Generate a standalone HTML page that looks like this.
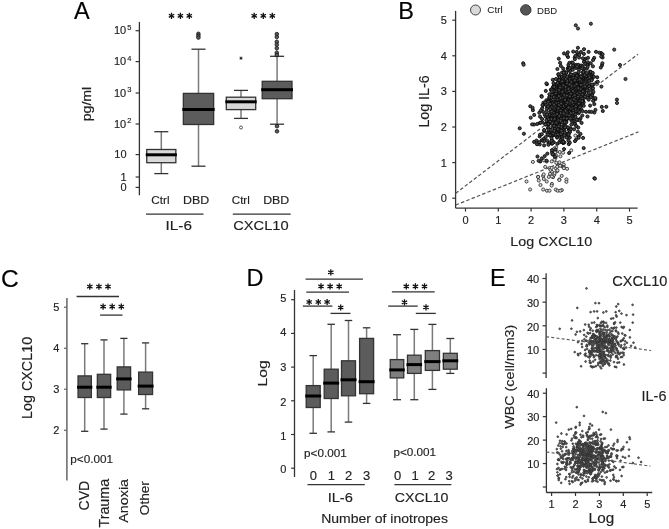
<!DOCTYPE html>
<html><head><meta charset="utf-8"><style>
html,body{margin:0;padding:0;background:#fff;}
svg{display:block;font-family:"Liberation Sans", sans-serif;filter:blur(0.3px);}

</style></head><body>
<svg width="669" height="529" viewBox="0 0 669 529">
<rect width="669" height="529" fill="#fff"/>
<text x="74.00" y="18.60" font-size="24.5" text-anchor="start" fill="#000" stroke="#000" stroke-width="0.15" transform="translate(74,0) scale(0.96,1) translate(-74,0)">A</text>
<line x1="139.40" y1="21.90" x2="139.40" y2="195.20" stroke="#333" stroke-width="1.3" />
<line x1="135.60" y1="30.70" x2="139.40" y2="30.70" stroke="#333" stroke-width="1.2" />
<line x1="135.60" y1="61.60" x2="139.40" y2="61.60" stroke="#333" stroke-width="1.2" />
<line x1="135.60" y1="93.00" x2="139.40" y2="93.00" stroke="#333" stroke-width="1.2" />
<line x1="135.60" y1="124.00" x2="139.40" y2="124.00" stroke="#333" stroke-width="1.2" />
<line x1="135.60" y1="154.60" x2="139.40" y2="154.60" stroke="#333" stroke-width="1.2" />
<line x1="135.60" y1="177.00" x2="139.40" y2="177.00" stroke="#333" stroke-width="1.2" />
<line x1="135.60" y1="187.40" x2="139.40" y2="187.40" stroke="#333" stroke-width="1.2" />
<text x="126.20" y="34.30" font-size="11" text-anchor="end" fill="#222" stroke="#222" stroke-width="0.15" >10</text>
<text x="127.20" y="29.70" font-size="7.5" text-anchor="start" fill="#222" stroke="#222" stroke-width="0.15" >5</text>
<text x="126.20" y="65.20" font-size="11" text-anchor="end" fill="#222" stroke="#222" stroke-width="0.15" >10</text>
<text x="127.20" y="60.60" font-size="7.5" text-anchor="start" fill="#222" stroke="#222" stroke-width="0.15" >4</text>
<text x="126.20" y="96.60" font-size="11" text-anchor="end" fill="#222" stroke="#222" stroke-width="0.15" >10</text>
<text x="127.20" y="92.00" font-size="7.5" text-anchor="start" fill="#222" stroke="#222" stroke-width="0.15" >3</text>
<text x="126.20" y="127.60" font-size="11" text-anchor="end" fill="#222" stroke="#222" stroke-width="0.15" >10</text>
<text x="127.20" y="123.00" font-size="7.5" text-anchor="start" fill="#222" stroke="#222" stroke-width="0.15" >2</text>
<text x="126.60" y="158.40" font-size="11" text-anchor="end" fill="#222" stroke="#222" stroke-width="0.15" >10</text>
<text x="126.60" y="180.80" font-size="11" text-anchor="end" fill="#222" stroke="#222" stroke-width="0.15" >1</text>
<text x="126.60" y="191.20" font-size="11" text-anchor="end" fill="#222" stroke="#222" stroke-width="0.15" >0</text>
<text transform="translate(91.44,121.37) rotate(-90) scale(1.060,1)" font-size="13.37" fill="#222" stroke="#222" stroke-width="0.2">pg/ml</text>
<line x1="161.30" y1="131.70" x2="161.30" y2="149.50" stroke="#7a7a7a" stroke-width="1.5" />
<line x1="161.30" y1="162.70" x2="161.30" y2="173.60" stroke="#7a7a7a" stroke-width="1.5" />
<line x1="154.30" y1="131.70" x2="168.30" y2="131.70" stroke="#333" stroke-width="1.3" />
<line x1="154.30" y1="173.60" x2="168.30" y2="173.60" stroke="#333" stroke-width="1.3" />
<rect x="146.75" y="149.50" width="29.10" height="13.20" fill="#d9d9d9" stroke="#333" stroke-width="1.3"/>
<line x1="145.75" y1="154.80" x2="176.85" y2="154.80" stroke="#000" stroke-width="3" />
<line x1="198.50" y1="49.20" x2="198.50" y2="93.40" stroke="#7a7a7a" stroke-width="1.5" />
<line x1="198.50" y1="124.50" x2="198.50" y2="166.20" stroke="#7a7a7a" stroke-width="1.5" />
<line x1="191.50" y1="49.20" x2="205.50" y2="49.20" stroke="#333" stroke-width="1.3" />
<line x1="191.50" y1="166.20" x2="205.50" y2="166.20" stroke="#333" stroke-width="1.3" />
<rect x="183.35" y="93.40" width="30.30" height="31.10" fill="#5c5c5c" stroke="#333" stroke-width="1.3"/>
<line x1="182.35" y1="109.60" x2="214.65" y2="109.60" stroke="#000" stroke-width="3" />
<line x1="241.00" y1="90.40" x2="241.00" y2="97.20" stroke="#7a7a7a" stroke-width="1.5" />
<line x1="241.00" y1="109.60" x2="241.00" y2="118.40" stroke="#7a7a7a" stroke-width="1.5" />
<line x1="234.00" y1="90.40" x2="248.00" y2="90.40" stroke="#333" stroke-width="1.3" />
<line x1="234.00" y1="118.40" x2="248.00" y2="118.40" stroke="#333" stroke-width="1.3" />
<rect x="226.30" y="97.20" width="29.40" height="12.40" fill="#d9d9d9" stroke="#333" stroke-width="1.3"/>
<line x1="225.30" y1="101.80" x2="256.70" y2="101.80" stroke="#000" stroke-width="3" />
<line x1="277.10" y1="56.30" x2="277.10" y2="81.30" stroke="#7a7a7a" stroke-width="1.5" />
<line x1="277.10" y1="98.70" x2="277.10" y2="124.20" stroke="#7a7a7a" stroke-width="1.5" />
<line x1="270.10" y1="56.30" x2="284.10" y2="56.30" stroke="#333" stroke-width="1.3" />
<line x1="270.10" y1="124.20" x2="284.10" y2="124.20" stroke="#333" stroke-width="1.3" />
<rect x="262.20" y="81.30" width="29.80" height="17.40" fill="#5c5c5c" stroke="#333" stroke-width="1.3"/>
<line x1="261.20" y1="89.70" x2="293.00" y2="89.70" stroke="#000" stroke-width="3" />
<g fill="#5c5c5c" stroke="#111" stroke-width="0.8"><circle cx="198.4" cy="33.8" r="1.8"/><circle cx="198.4" cy="35.7" r="1.8"/><circle cx="198.4" cy="37.6" r="1.8"/><circle cx="276.8" cy="34.1" r="1.8"/><circle cx="276.8" cy="37.0" r="1.8"/><circle cx="276.8" cy="41.8" r="1.8"/><circle cx="276.8" cy="44.7" r="1.8"/><circle cx="276.8" cy="48.2" r="1.8"/><circle cx="276.8" cy="52.7" r="1.8"/><circle cx="276.8" cy="55.0" r="1.8"/><circle cx="277.0" cy="126.2" r="1.8"/><circle cx="277.0" cy="131.3" r="1.8"/></g>
<g fill="#fff" stroke="#444" stroke-width="0.9"><circle cx="241.0" cy="127.5" r="1.5"/></g>
<path d="M241.00,56.60L241.00,59.80M239.61,57.40L242.39,59.00M242.39,57.40L239.61,59.00" stroke="#111" stroke-width="0.9" fill="none"/>
<path d="M171.50,12.70L171.50,18.90M168.82,14.25L174.18,17.35M174.18,14.25L168.82,17.35" stroke="#111" stroke-width="1.3" fill="none"/>
<path d="M180.40,12.70L180.40,18.90M177.72,14.25L183.08,17.35M183.08,14.25L177.72,17.35" stroke="#111" stroke-width="1.3" fill="none"/>
<path d="M189.30,12.70L189.30,18.90M186.62,14.25L191.98,17.35M191.98,14.25L186.62,17.35" stroke="#111" stroke-width="1.3" fill="none"/>
<path d="M254.20,12.70L254.20,18.90M251.52,14.25L256.88,17.35M256.88,14.25L251.52,17.35" stroke="#111" stroke-width="1.3" fill="none"/>
<path d="M263.30,12.70L263.30,18.90M260.62,14.25L265.98,17.35M265.98,14.25L260.62,17.35" stroke="#111" stroke-width="1.3" fill="none"/>
<path d="M272.30,12.70L272.30,18.90M269.62,14.25L274.98,17.35M274.98,14.25L269.62,17.35" stroke="#111" stroke-width="1.3" fill="none"/>
<text transform="translate(151.37,203.84) scale(1.061,1)" font-size="11.00" fill="#222" stroke="#222" stroke-width="0.15">Ctrl</text>
<text transform="translate(183.06,203.95) scale(1.171,1)" font-size="10.58" fill="#222" stroke="#222" stroke-width="0.15">DBD</text>
<text transform="translate(231.77,203.84) scale(1.054,1)" font-size="11.00" fill="#222" stroke="#222" stroke-width="0.15">Ctrl</text>
<text transform="translate(263.16,203.95) scale(1.167,1)" font-size="10.58" fill="#222" stroke="#222" stroke-width="0.15">DBD</text>
<line x1="146.00" y1="214.10" x2="203.50" y2="214.10" stroke="#333" stroke-width="1.3" />
<line x1="232.80" y1="214.10" x2="290.70" y2="214.10" stroke="#333" stroke-width="1.3" />
<text transform="translate(165.57,230.42) scale(1.158,1)" font-size="13.24" fill="#222" stroke="#222" stroke-width="0.15">IL-6</text>
<text transform="translate(233.22,230.42) scale(1.109,1)" font-size="13.24" fill="#222" stroke="#222" stroke-width="0.15">CXCL10</text>
<text x="398.20" y="18.60" font-size="24.5" text-anchor="start" fill="#000" stroke="#000" stroke-width="0.15" transform="translate(398,0) scale(0.96,1) translate(-398,0)">B</text>
<line x1="455.60" y1="10.90" x2="455.60" y2="208.10" stroke="#333" stroke-width="1.3" />
<line x1="455.60" y1="208.10" x2="637.60" y2="208.10" stroke="#333" stroke-width="1.3" />
<line x1="452.30" y1="198.20" x2="455.60" y2="198.20" stroke="#333" stroke-width="1.2" />
<text x="446.80" y="202.10" font-size="11" text-anchor="end" fill="#222" stroke="#222" stroke-width="0.15" >0</text>
<line x1="465.50" y1="208.10" x2="465.50" y2="211.60" stroke="#333" stroke-width="1.2" />
<text x="465.50" y="224.20" font-size="11" text-anchor="middle" fill="#222" stroke="#222" stroke-width="0.15" >0</text>
<line x1="452.30" y1="162.60" x2="455.60" y2="162.60" stroke="#333" stroke-width="1.2" />
<text x="446.80" y="166.50" font-size="11" text-anchor="end" fill="#222" stroke="#222" stroke-width="0.15" >1</text>
<line x1="498.30" y1="208.10" x2="498.30" y2="211.60" stroke="#333" stroke-width="1.2" />
<text x="498.30" y="224.20" font-size="11" text-anchor="middle" fill="#222" stroke="#222" stroke-width="0.15" >1</text>
<line x1="452.30" y1="127.00" x2="455.60" y2="127.00" stroke="#333" stroke-width="1.2" />
<text x="446.80" y="130.90" font-size="11" text-anchor="end" fill="#222" stroke="#222" stroke-width="0.15" >2</text>
<line x1="531.10" y1="208.10" x2="531.10" y2="211.60" stroke="#333" stroke-width="1.2" />
<text x="531.10" y="224.20" font-size="11" text-anchor="middle" fill="#222" stroke="#222" stroke-width="0.15" >2</text>
<line x1="452.30" y1="91.40" x2="455.60" y2="91.40" stroke="#333" stroke-width="1.2" />
<text x="446.80" y="95.30" font-size="11" text-anchor="end" fill="#222" stroke="#222" stroke-width="0.15" >3</text>
<line x1="563.90" y1="208.10" x2="563.90" y2="211.60" stroke="#333" stroke-width="1.2" />
<text x="563.90" y="224.20" font-size="11" text-anchor="middle" fill="#222" stroke="#222" stroke-width="0.15" >3</text>
<line x1="452.30" y1="55.80" x2="455.60" y2="55.80" stroke="#333" stroke-width="1.2" />
<text x="446.80" y="59.70" font-size="11" text-anchor="end" fill="#222" stroke="#222" stroke-width="0.15" >4</text>
<line x1="596.70" y1="208.10" x2="596.70" y2="211.60" stroke="#333" stroke-width="1.2" />
<text x="596.70" y="224.20" font-size="11" text-anchor="middle" fill="#222" stroke="#222" stroke-width="0.15" >4</text>
<line x1="452.30" y1="20.20" x2="455.60" y2="20.20" stroke="#333" stroke-width="1.2" />
<text x="446.80" y="24.10" font-size="11" text-anchor="end" fill="#222" stroke="#222" stroke-width="0.15" >5</text>
<line x1="629.50" y1="208.10" x2="629.50" y2="211.60" stroke="#333" stroke-width="1.2" />
<text x="629.50" y="224.20" font-size="11" text-anchor="middle" fill="#222" stroke="#222" stroke-width="0.15" >5</text>
<text transform="translate(510.30,246.25) scale(1.056,1)" font-size="13.57" fill="#222" stroke="#222" stroke-width="0.15">Log CXCL10</text>
<text transform="translate(428.97,127.59) rotate(-90) scale(1.003,1)" font-size="14.18" fill="#222" stroke="#222" stroke-width="0.15">Log IL-6</text>
<g stroke="#555" stroke-width="1.2" stroke-dasharray="3.5,2.2">
<line x1="455.70" y1="193.30" x2="637.90" y2="54.20" stroke="#555" stroke-width="1.2" />
<line x1="455.70" y1="205.00" x2="638.40" y2="131.90" stroke="#555" stroke-width="1.2" />
</g>
<g fill="#d9d9d9" stroke="#444" stroke-width="1"><circle cx="475.5" cy="10.0" r="5.0"/></g>
<g fill="#555" stroke="#333" stroke-width="1"><circle cx="525.8" cy="9.9" r="5.2"/></g>
<text transform="translate(487.36,12.56) scale(1.060,1)" font-size="9.30" fill="#222" stroke="#222" stroke-width="0.05">Ctrl</text>
<text transform="translate(537.09,14.15) scale(1.011,1)" font-size="9.42" fill="#222" stroke="#222" stroke-width="0.05">DBD</text>
<g fill="#d9d9d9" stroke="#333" stroke-width="0.9"><circle cx="567.1" cy="168.8" r="1.55"/><circle cx="556.2" cy="147.3" r="1.55"/><circle cx="538.1" cy="176.8" r="1.55"/><circle cx="555.4" cy="157.9" r="1.55"/><circle cx="555.9" cy="168.3" r="1.55"/><circle cx="559.7" cy="164.8" r="1.55"/><circle cx="544.1" cy="160.4" r="1.55"/><circle cx="543.5" cy="141.4" r="1.55"/><circle cx="556.4" cy="151.5" r="1.55"/><circle cx="549.5" cy="168.0" r="1.55"/><circle cx="551.8" cy="171.7" r="1.55"/><circle cx="545.2" cy="166.9" r="1.55"/><circle cx="554.5" cy="156.0" r="1.55"/><circle cx="559.8" cy="152.0" r="1.55"/><circle cx="553.1" cy="177.1" r="1.55"/><circle cx="552.4" cy="154.4" r="1.55"/><circle cx="561.7" cy="175.9" r="1.55"/><circle cx="543.1" cy="175.9" r="1.55"/><circle cx="546.7" cy="161.5" r="1.55"/><circle cx="530.1" cy="189.5" r="1.55"/><circle cx="560.1" cy="165.8" r="1.55"/><circle cx="559.5" cy="162.4" r="1.55"/><circle cx="551.9" cy="183.9" r="1.55"/><circle cx="555.2" cy="152.2" r="1.55"/><circle cx="556.3" cy="155.7" r="1.55"/><circle cx="557.2" cy="166.8" r="1.55"/><circle cx="555.8" cy="189.6" r="1.55"/><circle cx="548.8" cy="176.9" r="1.55"/><circle cx="554.3" cy="174.8" r="1.55"/><circle cx="556.3" cy="162.8" r="1.55"/><circle cx="563.1" cy="152.7" r="1.55"/><circle cx="532.9" cy="161.9" r="1.55"/><circle cx="550.5" cy="169.8" r="1.55"/><circle cx="543.7" cy="174.4" r="1.55"/><circle cx="563.8" cy="164.7" r="1.55"/><circle cx="571.2" cy="150.4" r="1.55"/><circle cx="551.9" cy="176.5" r="1.55"/><circle cx="551.6" cy="185.6" r="1.55"/><circle cx="551.7" cy="161.4" r="1.55"/><circle cx="551.7" cy="167.9" r="1.55"/><circle cx="559.3" cy="179.5" r="1.55"/><circle cx="575.4" cy="135.6" r="1.55"/><circle cx="560.4" cy="156.3" r="1.55"/><circle cx="566.5" cy="179.4" r="1.55"/><circle cx="554.6" cy="173.1" r="1.55"/><circle cx="557.2" cy="171.1" r="1.55"/><circle cx="557.5" cy="170.3" r="1.55"/><circle cx="546.7" cy="181.5" r="1.55"/><circle cx="554.2" cy="148.5" r="1.55"/><circle cx="559.4" cy="180.0" r="1.55"/><circle cx="563.0" cy="166.9" r="1.55"/><circle cx="543.2" cy="189.5" r="1.55"/><circle cx="538.1" cy="177.0" r="1.55"/><circle cx="563.8" cy="167.2" r="1.55"/><circle cx="538.8" cy="180.5" r="1.55"/><circle cx="550.0" cy="173.8" r="1.55"/><circle cx="561.8" cy="190.1" r="1.55"/><circle cx="554.5" cy="159.7" r="1.55"/><circle cx="566.4" cy="181.8" r="1.55"/><circle cx="562.3" cy="140.6" r="1.55"/><circle cx="563.9" cy="168.2" r="1.55"/><circle cx="543.8" cy="179.0" r="1.55"/><circle cx="546.9" cy="190.7" r="1.55"/><circle cx="549.5" cy="190.7" r="1.55"/><circle cx="557.7" cy="190.7" r="1.55"/><circle cx="560.3" cy="190.7" r="1.55"/><circle cx="526.5" cy="181.5" r="1.55"/><circle cx="540.5" cy="185.0" r="1.55"/></g>
<g fill="#4a4a4a" stroke="#0a0a0a" stroke-width="0.9"><circle cx="578.9" cy="108.5" r="1.55"/><circle cx="572.3" cy="74.9" r="1.55"/><circle cx="558.7" cy="107.1" r="1.55"/><circle cx="570.7" cy="90.8" r="1.55"/><circle cx="555.9" cy="79.0" r="1.55"/><circle cx="579.1" cy="69.5" r="1.55"/><circle cx="571.0" cy="88.1" r="1.55"/><circle cx="567.1" cy="113.3" r="1.55"/><circle cx="571.6" cy="84.8" r="1.55"/><circle cx="571.1" cy="109.5" r="1.55"/><circle cx="544.7" cy="114.8" r="1.55"/><circle cx="563.6" cy="91.8" r="1.55"/><circle cx="541.8" cy="140.2" r="1.55"/><circle cx="551.2" cy="107.7" r="1.55"/><circle cx="553.4" cy="134.9" r="1.55"/><circle cx="572.0" cy="83.1" r="1.55"/><circle cx="563.2" cy="120.6" r="1.55"/><circle cx="569.8" cy="86.6" r="1.55"/><circle cx="580.5" cy="96.3" r="1.55"/><circle cx="556.9" cy="103.9" r="1.55"/><circle cx="571.5" cy="96.9" r="1.55"/><circle cx="564.2" cy="74.1" r="1.55"/><circle cx="552.7" cy="113.4" r="1.55"/><circle cx="552.1" cy="140.5" r="1.55"/><circle cx="564.1" cy="88.7" r="1.55"/><circle cx="585.9" cy="77.5" r="1.55"/><circle cx="575.4" cy="91.7" r="1.55"/><circle cx="562.5" cy="76.9" r="1.55"/><circle cx="577.1" cy="92.8" r="1.55"/><circle cx="553.8" cy="142.2" r="1.55"/><circle cx="571.1" cy="112.0" r="1.55"/><circle cx="562.2" cy="112.4" r="1.55"/><circle cx="561.2" cy="92.0" r="1.55"/><circle cx="570.5" cy="90.0" r="1.55"/><circle cx="565.8" cy="90.4" r="1.55"/><circle cx="581.3" cy="82.9" r="1.55"/><circle cx="570.4" cy="109.8" r="1.55"/><circle cx="593.7" cy="84.5" r="1.55"/><circle cx="560.4" cy="140.4" r="1.55"/><circle cx="569.4" cy="92.9" r="1.55"/><circle cx="568.8" cy="130.1" r="1.55"/><circle cx="560.2" cy="132.4" r="1.55"/><circle cx="563.1" cy="68.4" r="1.55"/><circle cx="551.6" cy="103.7" r="1.55"/><circle cx="582.2" cy="104.8" r="1.55"/><circle cx="567.8" cy="52.3" r="1.55"/><circle cx="567.6" cy="118.5" r="1.55"/><circle cx="584.0" cy="71.6" r="1.55"/><circle cx="562.3" cy="120.3" r="1.55"/><circle cx="564.2" cy="102.6" r="1.55"/><circle cx="563.3" cy="120.4" r="1.55"/><circle cx="568.1" cy="96.2" r="1.55"/><circle cx="552.5" cy="102.1" r="1.55"/><circle cx="572.9" cy="118.9" r="1.55"/><circle cx="551.4" cy="100.7" r="1.55"/><circle cx="582.8" cy="77.3" r="1.55"/><circle cx="585.4" cy="58.8" r="1.55"/><circle cx="548.9" cy="106.4" r="1.55"/><circle cx="601.4" cy="86.6" r="1.55"/><circle cx="553.0" cy="117.6" r="1.55"/><circle cx="563.9" cy="86.8" r="1.55"/><circle cx="560.6" cy="107.3" r="1.55"/><circle cx="577.9" cy="104.0" r="1.55"/><circle cx="574.8" cy="106.8" r="1.55"/><circle cx="565.5" cy="113.5" r="1.55"/><circle cx="534.1" cy="141.9" r="1.55"/><circle cx="567.8" cy="83.6" r="1.55"/><circle cx="576.3" cy="93.3" r="1.55"/><circle cx="585.3" cy="78.8" r="1.55"/><circle cx="574.1" cy="81.1" r="1.55"/><circle cx="553.3" cy="114.7" r="1.55"/><circle cx="551.6" cy="108.4" r="1.55"/><circle cx="560.5" cy="114.3" r="1.55"/><circle cx="565.3" cy="96.3" r="1.55"/><circle cx="548.6" cy="143.6" r="1.55"/><circle cx="578.1" cy="103.2" r="1.55"/><circle cx="565.4" cy="88.0" r="1.55"/><circle cx="578.2" cy="127.5" r="1.55"/><circle cx="589.6" cy="95.3" r="1.55"/><circle cx="577.5" cy="54.4" r="1.55"/><circle cx="573.8" cy="97.0" r="1.55"/><circle cx="576.1" cy="93.7" r="1.55"/><circle cx="569.6" cy="99.6" r="1.55"/><circle cx="551.4" cy="134.2" r="1.55"/><circle cx="560.8" cy="119.6" r="1.55"/><circle cx="567.7" cy="115.8" r="1.55"/><circle cx="576.2" cy="87.2" r="1.55"/><circle cx="569.8" cy="96.9" r="1.55"/><circle cx="560.7" cy="111.9" r="1.55"/><circle cx="565.4" cy="115.4" r="1.55"/><circle cx="571.6" cy="105.5" r="1.55"/><circle cx="562.6" cy="135.3" r="1.55"/><circle cx="552.8" cy="116.0" r="1.55"/><circle cx="559.3" cy="104.8" r="1.55"/><circle cx="563.5" cy="94.4" r="1.55"/><circle cx="549.0" cy="122.0" r="1.55"/><circle cx="578.2" cy="75.6" r="1.55"/><circle cx="556.0" cy="127.9" r="1.55"/><circle cx="568.8" cy="144.1" r="1.55"/><circle cx="557.1" cy="137.6" r="1.55"/><circle cx="557.7" cy="85.1" r="1.55"/><circle cx="578.0" cy="101.3" r="1.55"/><circle cx="572.7" cy="94.4" r="1.55"/><circle cx="576.0" cy="83.8" r="1.55"/><circle cx="568.0" cy="95.5" r="1.55"/><circle cx="563.2" cy="85.5" r="1.55"/><circle cx="568.6" cy="84.1" r="1.55"/><circle cx="559.9" cy="127.9" r="1.55"/><circle cx="589.9" cy="71.6" r="1.55"/><circle cx="568.0" cy="117.2" r="1.55"/><circle cx="561.1" cy="112.2" r="1.55"/><circle cx="545.8" cy="90.9" r="1.55"/><circle cx="558.5" cy="94.5" r="1.55"/><circle cx="546.6" cy="111.3" r="1.55"/><circle cx="544.2" cy="131.0" r="1.55"/><circle cx="588.7" cy="93.1" r="1.55"/><circle cx="576.0" cy="108.6" r="1.55"/><circle cx="546.4" cy="100.2" r="1.55"/><circle cx="571.6" cy="102.0" r="1.55"/><circle cx="565.2" cy="113.6" r="1.55"/><circle cx="563.4" cy="87.1" r="1.55"/><circle cx="551.1" cy="133.4" r="1.55"/><circle cx="561.1" cy="106.0" r="1.55"/><circle cx="590.7" cy="90.0" r="1.55"/><circle cx="568.9" cy="115.1" r="1.55"/><circle cx="581.0" cy="86.4" r="1.55"/><circle cx="571.9" cy="79.2" r="1.55"/><circle cx="591.2" cy="96.6" r="1.55"/><circle cx="567.6" cy="83.3" r="1.55"/><circle cx="583.1" cy="95.9" r="1.55"/><circle cx="564.3" cy="92.8" r="1.55"/><circle cx="568.4" cy="64.9" r="1.55"/><circle cx="570.5" cy="92.4" r="1.55"/><circle cx="566.8" cy="133.9" r="1.55"/><circle cx="558.6" cy="90.5" r="1.55"/><circle cx="567.6" cy="88.5" r="1.55"/><circle cx="543.1" cy="140.4" r="1.55"/><circle cx="574.3" cy="100.4" r="1.55"/><circle cx="568.1" cy="99.8" r="1.55"/><circle cx="568.4" cy="92.2" r="1.55"/><circle cx="577.9" cy="78.9" r="1.55"/><circle cx="573.7" cy="99.3" r="1.55"/><circle cx="550.4" cy="122.4" r="1.55"/><circle cx="582.7" cy="72.3" r="1.55"/><circle cx="566.8" cy="110.7" r="1.55"/><circle cx="564.5" cy="114.6" r="1.55"/><circle cx="562.8" cy="118.5" r="1.55"/><circle cx="564.4" cy="142.5" r="1.55"/><circle cx="547.2" cy="106.9" r="1.55"/><circle cx="560.8" cy="106.2" r="1.55"/><circle cx="557.1" cy="94.8" r="1.55"/><circle cx="602.8" cy="111.0" r="1.55"/><circle cx="558.0" cy="131.8" r="1.55"/><circle cx="565.2" cy="110.6" r="1.55"/><circle cx="539.7" cy="136.4" r="1.55"/><circle cx="569.9" cy="93.2" r="1.55"/><circle cx="574.2" cy="65.3" r="1.55"/><circle cx="594.4" cy="112.5" r="1.55"/><circle cx="551.2" cy="115.3" r="1.55"/><circle cx="565.5" cy="103.7" r="1.55"/><circle cx="574.8" cy="85.8" r="1.55"/><circle cx="561.5" cy="120.1" r="1.55"/><circle cx="601.1" cy="53.0" r="1.55"/><circle cx="540.3" cy="161.5" r="1.55"/><circle cx="564.2" cy="124.5" r="1.55"/><circle cx="582.3" cy="115.5" r="1.55"/><circle cx="582.6" cy="87.4" r="1.55"/><circle cx="567.5" cy="99.0" r="1.55"/><circle cx="581.0" cy="101.7" r="1.55"/><circle cx="567.7" cy="90.3" r="1.55"/><circle cx="579.2" cy="77.0" r="1.55"/><circle cx="558.3" cy="101.2" r="1.55"/><circle cx="555.4" cy="112.3" r="1.55"/><circle cx="569.2" cy="90.2" r="1.55"/><circle cx="579.4" cy="83.0" r="1.55"/><circle cx="546.9" cy="84.2" r="1.55"/><circle cx="569.0" cy="110.5" r="1.55"/><circle cx="597.2" cy="77.3" r="1.55"/><circle cx="568.2" cy="67.7" r="1.55"/><circle cx="552.0" cy="152.3" r="1.55"/><circle cx="575.2" cy="106.9" r="1.55"/><circle cx="567.1" cy="106.8" r="1.55"/><circle cx="557.1" cy="136.9" r="1.55"/><circle cx="565.5" cy="114.1" r="1.55"/><circle cx="569.2" cy="92.9" r="1.55"/><circle cx="568.9" cy="96.4" r="1.55"/><circle cx="577.5" cy="89.3" r="1.55"/><circle cx="556.0" cy="112.1" r="1.55"/><circle cx="580.7" cy="65.8" r="1.55"/><circle cx="578.5" cy="83.9" r="1.55"/><circle cx="554.4" cy="111.7" r="1.55"/><circle cx="569.6" cy="101.8" r="1.55"/><circle cx="560.0" cy="84.5" r="1.55"/><circle cx="560.1" cy="115.3" r="1.55"/><circle cx="558.8" cy="58.7" r="1.55"/><circle cx="565.1" cy="91.4" r="1.55"/><circle cx="565.5" cy="91.8" r="1.55"/><circle cx="583.7" cy="102.4" r="1.55"/><circle cx="573.3" cy="97.6" r="1.55"/><circle cx="562.6" cy="91.9" r="1.55"/><circle cx="569.1" cy="90.7" r="1.55"/><circle cx="558.7" cy="120.2" r="1.55"/><circle cx="571.1" cy="111.3" r="1.55"/><circle cx="561.0" cy="101.7" r="1.55"/><circle cx="588.1" cy="76.7" r="1.55"/><circle cx="583.0" cy="79.0" r="1.55"/><circle cx="561.4" cy="103.6" r="1.55"/><circle cx="572.4" cy="113.3" r="1.55"/><circle cx="553.6" cy="94.1" r="1.55"/><circle cx="552.9" cy="97.6" r="1.55"/><circle cx="556.7" cy="94.2" r="1.55"/><circle cx="556.1" cy="130.5" r="1.55"/><circle cx="550.3" cy="97.4" r="1.55"/><circle cx="592.6" cy="97.0" r="1.55"/><circle cx="569.8" cy="142.7" r="1.55"/><circle cx="555.6" cy="115.5" r="1.55"/><circle cx="551.4" cy="100.5" r="1.55"/><circle cx="582.2" cy="77.8" r="1.55"/><circle cx="557.0" cy="117.8" r="1.55"/><circle cx="549.6" cy="133.7" r="1.55"/><circle cx="558.8" cy="75.6" r="1.55"/><circle cx="563.7" cy="113.0" r="1.55"/><circle cx="587.8" cy="87.0" r="1.55"/><circle cx="555.4" cy="109.5" r="1.55"/><circle cx="566.9" cy="92.0" r="1.55"/><circle cx="573.3" cy="114.6" r="1.55"/><circle cx="583.5" cy="68.5" r="1.55"/><circle cx="569.7" cy="109.8" r="1.55"/><circle cx="549.4" cy="143.1" r="1.55"/><circle cx="578.7" cy="136.3" r="1.55"/><circle cx="573.8" cy="88.5" r="1.55"/><circle cx="541.5" cy="96.0" r="1.55"/><circle cx="587.4" cy="95.4" r="1.55"/><circle cx="566.0" cy="121.7" r="1.55"/><circle cx="558.4" cy="80.9" r="1.55"/><circle cx="586.8" cy="89.4" r="1.55"/><circle cx="567.6" cy="98.0" r="1.55"/><circle cx="559.1" cy="79.5" r="1.55"/><circle cx="576.7" cy="105.9" r="1.55"/><circle cx="564.3" cy="133.9" r="1.55"/><circle cx="543.5" cy="102.7" r="1.55"/><circle cx="556.4" cy="101.0" r="1.55"/><circle cx="558.3" cy="91.1" r="1.55"/><circle cx="568.7" cy="77.6" r="1.55"/><circle cx="563.9" cy="92.9" r="1.55"/><circle cx="574.2" cy="115.3" r="1.55"/><circle cx="564.5" cy="96.8" r="1.55"/><circle cx="565.8" cy="134.9" r="1.55"/><circle cx="569.7" cy="86.2" r="1.55"/><circle cx="558.9" cy="93.4" r="1.55"/><circle cx="549.7" cy="120.9" r="1.55"/><circle cx="572.0" cy="97.0" r="1.55"/><circle cx="566.4" cy="122.2" r="1.55"/><circle cx="574.7" cy="87.3" r="1.55"/><circle cx="572.7" cy="79.9" r="1.55"/><circle cx="569.5" cy="107.7" r="1.55"/><circle cx="573.2" cy="107.4" r="1.55"/><circle cx="568.2" cy="136.1" r="1.55"/><circle cx="557.8" cy="119.0" r="1.55"/><circle cx="559.5" cy="135.0" r="1.55"/><circle cx="587.2" cy="81.0" r="1.55"/><circle cx="559.3" cy="78.5" r="1.55"/><circle cx="555.1" cy="117.6" r="1.55"/><circle cx="568.2" cy="128.0" r="1.55"/><circle cx="567.6" cy="99.1" r="1.55"/><circle cx="561.8" cy="88.6" r="1.55"/><circle cx="550.1" cy="118.4" r="1.55"/><circle cx="573.7" cy="94.1" r="1.55"/><circle cx="581.2" cy="95.7" r="1.55"/><circle cx="549.1" cy="129.4" r="1.55"/><circle cx="555.2" cy="94.0" r="1.55"/><circle cx="570.8" cy="119.0" r="1.55"/><circle cx="585.8" cy="84.6" r="1.55"/><circle cx="564.6" cy="101.3" r="1.55"/><circle cx="572.3" cy="78.6" r="1.55"/><circle cx="581.3" cy="101.9" r="1.55"/><circle cx="557.4" cy="108.2" r="1.55"/><circle cx="571.6" cy="106.0" r="1.55"/><circle cx="571.9" cy="93.6" r="1.55"/><circle cx="556.5" cy="84.2" r="1.55"/><circle cx="560.1" cy="122.1" r="1.55"/><circle cx="545.7" cy="116.8" r="1.55"/><circle cx="547.1" cy="124.6" r="1.55"/><circle cx="555.3" cy="102.3" r="1.55"/><circle cx="583.8" cy="105.8" r="1.55"/><circle cx="576.5" cy="112.0" r="1.55"/><circle cx="558.5" cy="92.0" r="1.55"/><circle cx="555.0" cy="104.2" r="1.55"/><circle cx="562.4" cy="81.7" r="1.55"/><circle cx="583.2" cy="77.7" r="1.55"/><circle cx="555.5" cy="149.5" r="1.55"/><circle cx="572.7" cy="66.7" r="1.55"/><circle cx="558.5" cy="74.2" r="1.55"/><circle cx="553.2" cy="90.4" r="1.55"/><circle cx="554.1" cy="84.9" r="1.55"/><circle cx="546.6" cy="160.7" r="1.55"/><circle cx="580.9" cy="52.0" r="1.55"/><circle cx="574.5" cy="86.1" r="1.55"/><circle cx="569.0" cy="112.8" r="1.55"/><circle cx="569.4" cy="62.8" r="1.55"/><circle cx="574.3" cy="92.7" r="1.55"/><circle cx="568.4" cy="140.6" r="1.55"/><circle cx="574.7" cy="57.6" r="1.55"/><circle cx="582.0" cy="66.6" r="1.55"/><circle cx="578.5" cy="113.3" r="1.55"/><circle cx="571.2" cy="99.8" r="1.55"/><circle cx="591.4" cy="76.8" r="1.55"/><circle cx="561.3" cy="77.9" r="1.55"/><circle cx="562.6" cy="141.5" r="1.55"/><circle cx="559.4" cy="123.4" r="1.55"/><circle cx="555.0" cy="125.1" r="1.55"/><circle cx="569.8" cy="137.5" r="1.55"/><circle cx="556.1" cy="124.2" r="1.55"/><circle cx="575.6" cy="112.5" r="1.55"/><circle cx="553.4" cy="133.1" r="1.55"/><circle cx="569.2" cy="110.0" r="1.55"/><circle cx="566.1" cy="91.1" r="1.55"/><circle cx="564.9" cy="96.4" r="1.55"/><circle cx="569.4" cy="92.8" r="1.55"/><circle cx="560.2" cy="116.9" r="1.55"/><circle cx="590.1" cy="105.6" r="1.55"/><circle cx="564.7" cy="114.9" r="1.55"/><circle cx="560.1" cy="62.8" r="1.55"/><circle cx="540.0" cy="134.7" r="1.55"/><circle cx="587.5" cy="116.5" r="1.55"/><circle cx="580.7" cy="100.3" r="1.55"/><circle cx="541.7" cy="96.8" r="1.55"/><circle cx="555.1" cy="156.7" r="1.55"/><circle cx="556.0" cy="93.4" r="1.55"/><circle cx="562.0" cy="72.6" r="1.55"/><circle cx="589.5" cy="85.6" r="1.55"/><circle cx="549.3" cy="114.4" r="1.55"/><circle cx="563.6" cy="80.3" r="1.55"/><circle cx="562.9" cy="79.5" r="1.55"/><circle cx="574.2" cy="86.5" r="1.55"/><circle cx="554.2" cy="108.3" r="1.55"/><circle cx="551.0" cy="89.6" r="1.55"/><circle cx="560.1" cy="107.2" r="1.55"/><circle cx="560.7" cy="83.2" r="1.55"/><circle cx="578.5" cy="65.5" r="1.55"/><circle cx="568.8" cy="133.5" r="1.55"/><circle cx="579.2" cy="67.1" r="1.55"/><circle cx="558.5" cy="122.1" r="1.55"/><circle cx="557.3" cy="116.4" r="1.55"/><circle cx="583.5" cy="71.9" r="1.55"/><circle cx="570.6" cy="101.6" r="1.55"/><circle cx="573.4" cy="108.2" r="1.55"/><circle cx="570.6" cy="82.9" r="1.55"/><circle cx="589.2" cy="111.7" r="1.55"/><circle cx="568.2" cy="93.4" r="1.55"/><circle cx="584.4" cy="59.8" r="1.55"/><circle cx="562.7" cy="129.4" r="1.55"/><circle cx="553.7" cy="120.0" r="1.55"/><circle cx="567.9" cy="95.7" r="1.55"/><circle cx="554.4" cy="116.9" r="1.55"/><circle cx="571.6" cy="120.9" r="1.55"/><circle cx="554.6" cy="115.9" r="1.55"/><circle cx="579.1" cy="57.5" r="1.55"/><circle cx="591.4" cy="77.5" r="1.55"/><circle cx="551.9" cy="100.0" r="1.55"/><circle cx="576.3" cy="96.6" r="1.55"/><circle cx="575.4" cy="83.0" r="1.55"/><circle cx="589.5" cy="83.9" r="1.55"/><circle cx="570.0" cy="131.9" r="1.55"/><circle cx="562.6" cy="96.9" r="1.55"/><circle cx="580.5" cy="118.3" r="1.55"/><circle cx="558.5" cy="74.3" r="1.55"/><circle cx="565.7" cy="100.8" r="1.55"/><circle cx="560.0" cy="104.6" r="1.55"/><circle cx="561.2" cy="137.9" r="1.55"/><circle cx="554.5" cy="121.4" r="1.55"/><circle cx="554.2" cy="112.6" r="1.55"/><circle cx="576.3" cy="89.1" r="1.55"/><circle cx="551.6" cy="113.2" r="1.55"/><circle cx="570.9" cy="117.4" r="1.55"/><circle cx="569.4" cy="101.5" r="1.55"/><circle cx="560.9" cy="108.9" r="1.55"/><circle cx="551.3" cy="90.3" r="1.55"/><circle cx="573.2" cy="65.5" r="1.55"/><circle cx="573.4" cy="121.2" r="1.55"/><circle cx="568.5" cy="98.6" r="1.55"/><circle cx="546.8" cy="108.5" r="1.55"/><circle cx="578.8" cy="104.6" r="1.55"/><circle cx="570.7" cy="128.3" r="1.55"/><circle cx="549.5" cy="123.7" r="1.55"/><circle cx="570.7" cy="92.4" r="1.55"/><circle cx="565.5" cy="85.2" r="1.55"/><circle cx="540.0" cy="116.6" r="1.55"/><circle cx="545.7" cy="123.8" r="1.55"/><circle cx="556.4" cy="134.8" r="1.55"/><circle cx="542.2" cy="108.3" r="1.55"/><circle cx="566.4" cy="135.3" r="1.55"/><circle cx="566.0" cy="73.3" r="1.55"/><circle cx="544.1" cy="129.9" r="1.55"/><circle cx="573.3" cy="77.8" r="1.55"/><circle cx="558.8" cy="120.2" r="1.55"/><circle cx="564.1" cy="71.4" r="1.55"/><circle cx="550.2" cy="105.1" r="1.55"/><circle cx="602.0" cy="65.3" r="1.55"/><circle cx="573.4" cy="82.4" r="1.55"/><circle cx="552.8" cy="79.8" r="1.55"/><circle cx="556.4" cy="91.3" r="1.55"/><circle cx="548.1" cy="128.1" r="1.55"/><circle cx="568.4" cy="113.1" r="1.55"/><circle cx="574.8" cy="89.5" r="1.55"/><circle cx="564.0" cy="126.2" r="1.55"/><circle cx="575.9" cy="111.0" r="1.55"/><circle cx="532.9" cy="110.2" r="1.55"/><circle cx="581.6" cy="122.9" r="1.55"/><circle cx="568.6" cy="92.3" r="1.55"/><circle cx="578.6" cy="86.7" r="1.55"/><circle cx="565.6" cy="91.1" r="1.55"/><circle cx="568.7" cy="102.4" r="1.55"/><circle cx="550.3" cy="111.7" r="1.55"/><circle cx="576.3" cy="104.5" r="1.55"/><circle cx="576.4" cy="91.6" r="1.55"/><circle cx="594.3" cy="104.1" r="1.55"/><circle cx="578.0" cy="102.3" r="1.55"/><circle cx="584.0" cy="61.9" r="1.55"/><circle cx="578.1" cy="102.2" r="1.55"/><circle cx="583.9" cy="68.8" r="1.55"/><circle cx="570.2" cy="95.9" r="1.55"/><circle cx="565.8" cy="133.7" r="1.55"/><circle cx="548.3" cy="100.8" r="1.55"/><circle cx="549.1" cy="98.5" r="1.55"/><circle cx="557.5" cy="124.5" r="1.55"/><circle cx="567.9" cy="127.4" r="1.55"/><circle cx="555.7" cy="135.4" r="1.55"/><circle cx="584.6" cy="97.8" r="1.55"/><circle cx="576.6" cy="84.5" r="1.55"/><circle cx="566.5" cy="101.0" r="1.55"/><circle cx="570.4" cy="75.9" r="1.55"/><circle cx="570.1" cy="91.5" r="1.55"/><circle cx="566.1" cy="96.7" r="1.55"/><circle cx="579.2" cy="54.8" r="1.55"/><circle cx="571.1" cy="98.8" r="1.55"/><circle cx="575.9" cy="92.1" r="1.55"/><circle cx="579.1" cy="98.4" r="1.55"/><circle cx="553.2" cy="134.9" r="1.55"/><circle cx="557.7" cy="130.1" r="1.55"/><circle cx="547.2" cy="123.7" r="1.55"/><circle cx="578.6" cy="110.5" r="1.55"/><circle cx="574.2" cy="92.0" r="1.55"/><circle cx="570.2" cy="69.0" r="1.55"/><circle cx="544.1" cy="145.4" r="1.55"/><circle cx="575.3" cy="114.4" r="1.55"/><circle cx="573.2" cy="51.6" r="1.55"/><circle cx="602.6" cy="57.5" r="1.55"/><circle cx="577.2" cy="86.8" r="1.55"/><circle cx="588.6" cy="51.9" r="1.55"/><circle cx="563.5" cy="113.6" r="1.55"/><circle cx="558.7" cy="134.0" r="1.55"/><circle cx="568.5" cy="106.7" r="1.55"/><circle cx="560.0" cy="90.5" r="1.55"/><circle cx="568.8" cy="70.5" r="1.55"/><circle cx="559.7" cy="77.0" r="1.55"/><circle cx="562.2" cy="91.4" r="1.55"/><circle cx="560.9" cy="99.1" r="1.55"/><circle cx="537.0" cy="144.2" r="1.55"/><circle cx="572.8" cy="104.2" r="1.55"/><circle cx="534.1" cy="124.5" r="1.55"/><circle cx="556.8" cy="120.4" r="1.55"/><circle cx="553.5" cy="112.7" r="1.55"/><circle cx="582.8" cy="89.2" r="1.55"/><circle cx="564.4" cy="83.0" r="1.55"/><circle cx="565.4" cy="100.4" r="1.55"/><circle cx="561.9" cy="137.1" r="1.55"/><circle cx="562.8" cy="98.9" r="1.55"/><circle cx="586.0" cy="76.3" r="1.55"/><circle cx="585.0" cy="90.1" r="1.55"/><circle cx="561.2" cy="82.0" r="1.55"/><circle cx="572.2" cy="115.6" r="1.55"/><circle cx="560.0" cy="119.4" r="1.55"/><circle cx="583.1" cy="100.9" r="1.55"/><circle cx="586.1" cy="79.4" r="1.55"/><circle cx="573.2" cy="111.0" r="1.55"/><circle cx="569.6" cy="91.0" r="1.55"/><circle cx="582.9" cy="76.4" r="1.55"/><circle cx="571.3" cy="124.6" r="1.55"/><circle cx="569.6" cy="111.0" r="1.55"/><circle cx="552.8" cy="135.1" r="1.55"/><circle cx="549.2" cy="118.6" r="1.55"/><circle cx="569.1" cy="153.0" r="1.55"/><circle cx="567.2" cy="107.2" r="1.55"/><circle cx="575.0" cy="79.0" r="1.55"/><circle cx="558.5" cy="86.0" r="1.55"/><circle cx="564.3" cy="97.0" r="1.55"/><circle cx="572.4" cy="93.2" r="1.55"/><circle cx="537.2" cy="124.0" r="1.55"/><circle cx="564.1" cy="127.8" r="1.55"/><circle cx="573.8" cy="95.8" r="1.55"/><circle cx="523.9" cy="133.7" r="1.55"/><circle cx="557.8" cy="114.7" r="1.55"/><circle cx="564.2" cy="117.4" r="1.55"/><circle cx="554.0" cy="101.4" r="1.55"/><circle cx="559.8" cy="122.3" r="1.55"/><circle cx="566.2" cy="101.2" r="1.55"/><circle cx="583.9" cy="53.9" r="1.55"/><circle cx="558.2" cy="96.1" r="1.55"/><circle cx="567.9" cy="113.1" r="1.55"/><circle cx="569.8" cy="90.4" r="1.55"/><circle cx="570.2" cy="95.0" r="1.55"/><circle cx="519.7" cy="128.3" r="1.55"/><circle cx="594.2" cy="57.9" r="1.55"/><circle cx="549.8" cy="96.6" r="1.55"/><circle cx="567.3" cy="136.2" r="1.55"/><circle cx="538.6" cy="160.8" r="1.55"/><circle cx="575.2" cy="85.4" r="1.55"/><circle cx="571.7" cy="86.6" r="1.55"/><circle cx="577.9" cy="47.8" r="1.55"/><circle cx="556.7" cy="133.2" r="1.55"/><circle cx="578.3" cy="72.6" r="1.55"/><circle cx="570.6" cy="78.5" r="1.55"/><circle cx="568.5" cy="134.5" r="1.55"/><circle cx="594.0" cy="76.8" r="1.55"/><circle cx="551.8" cy="107.3" r="1.55"/><circle cx="553.8" cy="126.9" r="1.55"/><circle cx="576.0" cy="93.1" r="1.55"/><circle cx="555.3" cy="134.4" r="1.55"/><circle cx="567.2" cy="103.2" r="1.55"/><circle cx="564.1" cy="102.7" r="1.55"/><circle cx="572.6" cy="91.1" r="1.55"/><circle cx="561.9" cy="95.3" r="1.55"/><circle cx="568.6" cy="94.2" r="1.55"/><circle cx="552.0" cy="150.1" r="1.55"/><circle cx="572.3" cy="112.9" r="1.55"/><circle cx="563.9" cy="106.2" r="1.55"/><circle cx="568.0" cy="98.6" r="1.55"/><circle cx="545.9" cy="104.6" r="1.55"/><circle cx="568.0" cy="57.0" r="1.55"/><circle cx="569.2" cy="113.3" r="1.55"/><circle cx="574.7" cy="97.6" r="1.55"/><circle cx="584.5" cy="92.5" r="1.55"/><circle cx="595.4" cy="109.9" r="1.55"/><circle cx="559.3" cy="125.6" r="1.55"/><circle cx="558.0" cy="108.3" r="1.55"/><circle cx="582.1" cy="103.6" r="1.55"/><circle cx="553.4" cy="115.0" r="1.55"/><circle cx="577.6" cy="90.2" r="1.55"/><circle cx="592.9" cy="66.3" r="1.55"/><circle cx="565.2" cy="96.8" r="1.55"/><circle cx="566.5" cy="97.8" r="1.55"/><circle cx="554.2" cy="132.1" r="1.55"/><circle cx="562.5" cy="105.8" r="1.55"/><circle cx="577.9" cy="119.8" r="1.55"/><circle cx="580.9" cy="92.6" r="1.55"/><circle cx="551.5" cy="111.4" r="1.55"/><circle cx="565.9" cy="110.2" r="1.55"/><circle cx="561.4" cy="109.6" r="1.55"/><circle cx="577.4" cy="84.1" r="1.55"/><circle cx="553.6" cy="122.1" r="1.55"/><circle cx="562.0" cy="117.9" r="1.55"/><circle cx="554.3" cy="127.1" r="1.55"/><circle cx="572.6" cy="88.6" r="1.55"/><circle cx="552.5" cy="119.7" r="1.55"/><circle cx="571.7" cy="102.7" r="1.55"/><circle cx="572.3" cy="84.8" r="1.55"/><circle cx="567.6" cy="137.4" r="1.55"/><circle cx="572.5" cy="98.7" r="1.55"/><circle cx="559.4" cy="92.0" r="1.55"/><circle cx="565.7" cy="111.1" r="1.55"/><circle cx="575.9" cy="81.5" r="1.55"/><circle cx="581.1" cy="101.5" r="1.55"/><circle cx="595.2" cy="99.2" r="1.55"/><circle cx="591.1" cy="79.0" r="1.55"/><circle cx="561.9" cy="77.0" r="1.55"/><circle cx="579.1" cy="87.9" r="1.55"/><circle cx="566.9" cy="116.9" r="1.55"/><circle cx="565.6" cy="92.2" r="1.55"/><circle cx="562.7" cy="104.6" r="1.55"/><circle cx="564.3" cy="96.4" r="1.55"/><circle cx="553.5" cy="83.0" r="1.55"/><circle cx="548.3" cy="101.6" r="1.55"/><circle cx="566.7" cy="115.7" r="1.55"/><circle cx="565.4" cy="102.2" r="1.55"/><circle cx="581.1" cy="108.7" r="1.55"/><circle cx="564.5" cy="130.6" r="1.55"/><circle cx="548.6" cy="133.1" r="1.55"/><circle cx="559.9" cy="95.9" r="1.55"/><circle cx="574.7" cy="102.1" r="1.55"/><circle cx="555.0" cy="128.1" r="1.55"/><circle cx="545.1" cy="102.4" r="1.55"/><circle cx="557.3" cy="103.5" r="1.55"/><circle cx="570.0" cy="70.9" r="1.55"/><circle cx="576.3" cy="64.8" r="1.55"/><circle cx="588.2" cy="64.5" r="1.55"/><circle cx="577.6" cy="97.1" r="1.55"/><circle cx="587.0" cy="90.3" r="1.55"/><circle cx="578.3" cy="64.9" r="1.55"/><circle cx="530.7" cy="117.7" r="1.55"/><circle cx="569.7" cy="114.8" r="1.55"/><circle cx="570.6" cy="95.6" r="1.55"/><circle cx="557.3" cy="107.7" r="1.55"/><circle cx="567.2" cy="110.9" r="1.55"/><circle cx="557.3" cy="143.8" r="1.55"/><circle cx="551.9" cy="133.3" r="1.55"/><circle cx="557.2" cy="114.9" r="1.55"/><circle cx="546.4" cy="120.2" r="1.55"/><circle cx="554.2" cy="103.2" r="1.55"/><circle cx="584.0" cy="49.2" r="1.55"/><circle cx="555.3" cy="114.7" r="1.55"/><circle cx="534.2" cy="114.9" r="1.55"/><circle cx="566.7" cy="110.1" r="1.55"/><circle cx="552.9" cy="135.1" r="1.55"/><circle cx="555.1" cy="128.7" r="1.55"/><circle cx="573.7" cy="97.8" r="1.55"/><circle cx="563.5" cy="90.9" r="1.55"/><circle cx="569.7" cy="82.6" r="1.55"/><circle cx="575.6" cy="99.0" r="1.55"/><circle cx="551.6" cy="104.0" r="1.55"/><circle cx="561.2" cy="85.3" r="1.55"/><circle cx="548.1" cy="117.2" r="1.55"/><circle cx="572.0" cy="84.7" r="1.55"/><circle cx="552.9" cy="154.2" r="1.55"/><circle cx="600.8" cy="67.5" r="1.55"/><circle cx="561.7" cy="115.7" r="1.55"/><circle cx="578.7" cy="96.5" r="1.55"/><circle cx="556.3" cy="97.7" r="1.55"/><circle cx="578.3" cy="90.1" r="1.55"/><circle cx="550.9" cy="129.9" r="1.55"/><circle cx="568.4" cy="97.6" r="1.55"/><circle cx="577.9" cy="95.8" r="1.55"/><circle cx="569.7" cy="91.3" r="1.55"/><circle cx="559.7" cy="134.7" r="1.55"/><circle cx="596.4" cy="82.5" r="1.55"/><circle cx="565.4" cy="103.9" r="1.55"/><circle cx="591.9" cy="79.2" r="1.55"/><circle cx="575.5" cy="99.3" r="1.55"/><circle cx="564.6" cy="122.1" r="1.55"/><circle cx="557.3" cy="120.2" r="1.55"/><circle cx="560.6" cy="103.9" r="1.55"/><circle cx="539.8" cy="144.4" r="1.55"/><circle cx="568.3" cy="96.0" r="1.55"/><circle cx="566.4" cy="113.6" r="1.55"/><circle cx="579.8" cy="92.6" r="1.55"/><circle cx="559.0" cy="120.6" r="1.55"/><circle cx="554.9" cy="106.5" r="1.55"/><circle cx="551.8" cy="134.7" r="1.55"/><circle cx="577.9" cy="131.6" r="1.55"/><circle cx="563.0" cy="104.5" r="1.55"/><circle cx="579.5" cy="120.3" r="1.55"/><circle cx="556.1" cy="122.7" r="1.55"/><circle cx="558.0" cy="119.2" r="1.55"/><circle cx="575.6" cy="109.1" r="1.55"/><circle cx="553.2" cy="133.3" r="1.55"/><circle cx="575.5" cy="66.9" r="1.55"/><circle cx="556.2" cy="103.2" r="1.55"/><circle cx="541.8" cy="158.4" r="1.55"/><circle cx="572.0" cy="76.4" r="1.55"/><circle cx="552.0" cy="143.7" r="1.55"/><circle cx="575.7" cy="106.2" r="1.55"/><circle cx="571.5" cy="82.9" r="1.55"/><circle cx="553.0" cy="86.9" r="1.55"/><circle cx="577.4" cy="80.7" r="1.55"/><circle cx="585.2" cy="85.2" r="1.55"/><circle cx="562.0" cy="108.8" r="1.55"/><circle cx="539.3" cy="112.7" r="1.55"/><circle cx="566.1" cy="106.9" r="1.55"/><circle cx="562.8" cy="129.6" r="1.55"/><circle cx="570.9" cy="103.4" r="1.55"/><circle cx="543.0" cy="111.8" r="1.55"/><circle cx="578.3" cy="89.7" r="1.55"/><circle cx="561.1" cy="103.9" r="1.55"/><circle cx="562.2" cy="108.7" r="1.55"/><circle cx="543.0" cy="105.2" r="1.55"/><circle cx="559.2" cy="80.1" r="1.55"/><circle cx="560.2" cy="109.1" r="1.55"/><circle cx="553.5" cy="90.7" r="1.55"/><circle cx="582.6" cy="80.8" r="1.55"/><circle cx="584.3" cy="92.8" r="1.55"/><circle cx="530.3" cy="106.2" r="1.55"/><circle cx="580.9" cy="102.2" r="1.55"/><circle cx="571.4" cy="76.3" r="1.55"/><circle cx="567.8" cy="106.5" r="1.55"/><circle cx="544.0" cy="138.6" r="1.55"/><circle cx="574.9" cy="123.8" r="1.55"/><circle cx="574.7" cy="124.1" r="1.55"/><circle cx="550.9" cy="95.4" r="1.55"/><circle cx="576.8" cy="51.9" r="1.55"/><circle cx="587.2" cy="97.7" r="1.55"/><circle cx="550.2" cy="109.0" r="1.55"/><circle cx="576.0" cy="81.4" r="1.55"/><circle cx="545.5" cy="124.3" r="1.55"/><circle cx="571.6" cy="115.7" r="1.55"/><circle cx="569.6" cy="112.2" r="1.55"/><circle cx="592.4" cy="73.8" r="1.55"/><circle cx="590.1" cy="78.2" r="1.55"/><circle cx="563.2" cy="142.7" r="1.55"/><circle cx="568.0" cy="95.6" r="1.55"/><circle cx="542.1" cy="119.0" r="1.55"/><circle cx="556.2" cy="126.6" r="1.55"/><circle cx="548.4" cy="124.4" r="1.55"/><circle cx="566.8" cy="119.2" r="1.55"/><circle cx="562.3" cy="108.7" r="1.55"/><circle cx="575.0" cy="73.6" r="1.55"/><circle cx="561.8" cy="85.7" r="1.55"/><circle cx="570.2" cy="96.7" r="1.55"/><circle cx="563.5" cy="97.3" r="1.55"/><circle cx="554.4" cy="123.6" r="1.55"/><circle cx="571.5" cy="117.7" r="1.55"/><circle cx="563.2" cy="78.5" r="1.55"/><circle cx="567.3" cy="87.7" r="1.55"/><circle cx="565.8" cy="91.3" r="1.55"/><circle cx="562.5" cy="138.9" r="1.55"/><circle cx="559.0" cy="88.1" r="1.55"/><circle cx="544.6" cy="140.8" r="1.55"/><circle cx="552.4" cy="126.6" r="1.55"/><circle cx="585.1" cy="96.6" r="1.55"/><circle cx="575.6" cy="116.9" r="1.55"/><circle cx="572.5" cy="76.5" r="1.55"/><circle cx="559.3" cy="142.3" r="1.55"/><circle cx="593.1" cy="100.8" r="1.55"/><circle cx="586.0" cy="76.3" r="1.55"/><circle cx="571.6" cy="62.6" r="1.55"/><circle cx="565.5" cy="97.8" r="1.55"/><circle cx="586.8" cy="68.7" r="1.55"/><circle cx="565.4" cy="125.7" r="1.55"/><circle cx="564.4" cy="114.3" r="1.55"/><circle cx="573.8" cy="90.4" r="1.55"/><circle cx="570.8" cy="129.4" r="1.55"/><circle cx="569.8" cy="94.4" r="1.55"/><circle cx="567.8" cy="85.5" r="1.55"/><circle cx="585.2" cy="63.9" r="1.55"/><circle cx="572.9" cy="96.7" r="1.55"/><circle cx="547.7" cy="116.9" r="1.55"/><circle cx="571.7" cy="99.8" r="1.55"/><circle cx="582.5" cy="76.3" r="1.55"/><circle cx="561.7" cy="128.3" r="1.55"/><circle cx="583.0" cy="89.8" r="1.55"/><circle cx="558.3" cy="90.3" r="1.55"/><circle cx="570.1" cy="74.9" r="1.55"/><circle cx="557.2" cy="83.6" r="1.55"/><circle cx="566.1" cy="83.1" r="1.55"/><circle cx="592.2" cy="87.8" r="1.55"/><circle cx="566.2" cy="72.8" r="1.55"/><circle cx="550.2" cy="118.9" r="1.55"/><circle cx="575.5" cy="90.4" r="1.55"/><circle cx="570.7" cy="100.9" r="1.55"/><circle cx="577.6" cy="93.5" r="1.55"/><circle cx="580.9" cy="66.8" r="1.55"/><circle cx="551.3" cy="90.2" r="1.55"/><circle cx="548.4" cy="127.8" r="1.55"/><circle cx="558.0" cy="129.0" r="1.55"/><circle cx="571.6" cy="78.9" r="1.55"/><circle cx="557.4" cy="111.0" r="1.55"/><circle cx="562.5" cy="97.8" r="1.55"/><circle cx="572.8" cy="95.3" r="1.55"/><circle cx="576.3" cy="99.2" r="1.55"/><circle cx="567.9" cy="103.0" r="1.55"/><circle cx="581.4" cy="65.6" r="1.55"/><circle cx="573.8" cy="86.4" r="1.55"/><circle cx="558.0" cy="110.8" r="1.55"/><circle cx="559.1" cy="120.6" r="1.55"/><circle cx="557.0" cy="114.1" r="1.55"/><circle cx="575.7" cy="76.7" r="1.55"/><circle cx="578.7" cy="80.2" r="1.55"/><circle cx="568.2" cy="82.2" r="1.55"/><circle cx="591.5" cy="111.9" r="1.55"/><circle cx="582.6" cy="90.2" r="1.55"/><circle cx="576.0" cy="102.1" r="1.55"/><circle cx="548.1" cy="124.0" r="1.55"/><circle cx="577.4" cy="97.8" r="1.55"/><circle cx="560.8" cy="111.1" r="1.55"/><circle cx="561.2" cy="110.1" r="1.55"/><circle cx="542.4" cy="122.3" r="1.55"/><circle cx="549.4" cy="97.2" r="1.55"/><circle cx="551.3" cy="121.1" r="1.55"/><circle cx="558.8" cy="126.7" r="1.55"/><circle cx="561.2" cy="112.5" r="1.55"/><circle cx="550.2" cy="121.5" r="1.55"/><circle cx="573.7" cy="94.2" r="1.55"/><circle cx="565.0" cy="115.0" r="1.55"/><circle cx="568.9" cy="100.3" r="1.55"/><circle cx="576.1" cy="68.0" r="1.55"/><circle cx="573.3" cy="96.6" r="1.55"/><circle cx="553.0" cy="103.4" r="1.55"/><circle cx="574.1" cy="90.2" r="1.55"/><circle cx="566.3" cy="102.7" r="1.55"/><circle cx="557.6" cy="99.3" r="1.55"/><circle cx="551.6" cy="89.5" r="1.55"/><circle cx="551.6" cy="97.6" r="1.55"/><circle cx="568.9" cy="114.5" r="1.55"/><circle cx="558.7" cy="107.2" r="1.55"/><circle cx="567.4" cy="91.8" r="1.55"/><circle cx="558.1" cy="110.8" r="1.55"/><circle cx="584.7" cy="74.9" r="1.55"/><circle cx="558.6" cy="88.5" r="1.55"/><circle cx="558.9" cy="85.1" r="1.55"/><circle cx="559.2" cy="88.9" r="1.55"/><circle cx="567.0" cy="55.2" r="1.55"/><circle cx="583.2" cy="81.8" r="1.55"/><circle cx="547.3" cy="140.7" r="1.55"/><circle cx="588.2" cy="78.6" r="1.55"/><circle cx="545.7" cy="137.0" r="1.55"/><circle cx="545.4" cy="124.4" r="1.55"/><circle cx="576.2" cy="126.0" r="1.55"/><circle cx="564.2" cy="100.4" r="1.55"/><circle cx="568.2" cy="114.3" r="1.55"/><circle cx="562.7" cy="85.5" r="1.55"/><circle cx="568.1" cy="68.3" r="1.55"/><circle cx="566.7" cy="112.1" r="1.55"/><circle cx="577.0" cy="66.4" r="1.55"/><circle cx="579.5" cy="104.0" r="1.55"/><circle cx="580.8" cy="96.1" r="1.55"/><circle cx="576.6" cy="83.4" r="1.55"/><circle cx="579.0" cy="95.0" r="1.55"/><circle cx="579.4" cy="112.0" r="1.55"/><circle cx="539.1" cy="142.2" r="1.55"/><circle cx="581.7" cy="75.6" r="1.55"/><circle cx="562.8" cy="119.6" r="1.55"/><circle cx="569.5" cy="78.7" r="1.55"/><circle cx="570.7" cy="87.4" r="1.55"/><circle cx="563.4" cy="106.3" r="1.55"/><circle cx="564.6" cy="75.7" r="1.55"/><circle cx="567.9" cy="115.0" r="1.55"/><circle cx="539.9" cy="122.9" r="1.55"/><circle cx="570.1" cy="92.2" r="1.55"/><circle cx="565.1" cy="108.0" r="1.55"/><circle cx="583.1" cy="137.9" r="1.55"/><circle cx="552.4" cy="123.1" r="1.55"/><circle cx="548.7" cy="132.5" r="1.55"/><circle cx="578.7" cy="72.0" r="1.55"/><circle cx="565.9" cy="89.4" r="1.55"/><circle cx="582.6" cy="66.5" r="1.55"/><circle cx="561.1" cy="134.1" r="1.55"/><circle cx="567.3" cy="114.8" r="1.55"/><circle cx="568.7" cy="102.4" r="1.55"/><circle cx="558.0" cy="97.3" r="1.55"/><circle cx="560.7" cy="140.4" r="1.55"/><circle cx="566.5" cy="108.4" r="1.55"/><circle cx="542.5" cy="105.0" r="1.55"/><circle cx="566.5" cy="137.5" r="1.55"/><circle cx="554.6" cy="119.1" r="1.55"/><circle cx="547.3" cy="132.9" r="1.55"/><circle cx="559.7" cy="111.1" r="1.55"/><circle cx="558.6" cy="103.0" r="1.55"/><circle cx="559.8" cy="116.4" r="1.55"/><circle cx="566.5" cy="96.8" r="1.55"/><circle cx="582.2" cy="68.3" r="1.55"/><circle cx="560.4" cy="97.9" r="1.55"/><circle cx="564.7" cy="77.9" r="1.55"/><circle cx="541.8" cy="134.2" r="1.55"/><circle cx="560.0" cy="86.1" r="1.55"/><circle cx="576.2" cy="76.8" r="1.55"/><circle cx="549.5" cy="135.4" r="1.55"/><circle cx="572.8" cy="62.7" r="1.55"/><circle cx="558.0" cy="134.4" r="1.55"/><circle cx="585.7" cy="81.2" r="1.55"/><circle cx="563.7" cy="112.1" r="1.55"/><circle cx="578.5" cy="102.7" r="1.55"/><circle cx="582.9" cy="58.3" r="1.55"/><circle cx="573.2" cy="75.3" r="1.55"/><circle cx="561.6" cy="87.7" r="1.55"/><circle cx="562.0" cy="122.4" r="1.55"/><circle cx="565.1" cy="127.3" r="1.55"/><circle cx="560.8" cy="116.4" r="1.55"/><circle cx="561.1" cy="104.6" r="1.55"/><circle cx="575.9" cy="106.4" r="1.55"/><circle cx="566.0" cy="97.2" r="1.55"/><circle cx="559.5" cy="125.0" r="1.55"/><circle cx="556.4" cy="122.6" r="1.55"/><circle cx="557.4" cy="69.0" r="1.55"/><circle cx="571.2" cy="101.1" r="1.55"/><circle cx="561.3" cy="127.0" r="1.55"/><circle cx="564.8" cy="95.3" r="1.55"/><circle cx="563.7" cy="72.8" r="1.55"/><circle cx="568.5" cy="89.7" r="1.55"/><circle cx="554.0" cy="125.9" r="1.55"/><circle cx="569.3" cy="115.4" r="1.55"/><circle cx="549.9" cy="135.1" r="1.55"/><circle cx="575.3" cy="121.1" r="1.55"/><circle cx="564.7" cy="132.8" r="1.55"/><circle cx="552.5" cy="143.1" r="1.55"/><circle cx="567.1" cy="109.0" r="1.55"/><circle cx="540.8" cy="110.5" r="1.55"/><circle cx="563.2" cy="143.0" r="1.55"/><circle cx="558.8" cy="96.1" r="1.55"/><circle cx="565.9" cy="82.1" r="1.55"/><circle cx="547.1" cy="114.7" r="1.55"/><circle cx="593.0" cy="88.4" r="1.55"/><circle cx="558.8" cy="126.3" r="1.55"/><circle cx="592.6" cy="93.4" r="1.55"/><circle cx="544.7" cy="156.1" r="1.55"/><circle cx="556.7" cy="84.3" r="1.55"/><circle cx="570.0" cy="96.9" r="1.55"/><circle cx="565.6" cy="86.8" r="1.55"/><circle cx="562.7" cy="93.1" r="1.55"/><circle cx="571.3" cy="92.6" r="1.55"/><circle cx="548.2" cy="106.4" r="1.55"/><circle cx="589.2" cy="74.8" r="1.55"/><circle cx="566.2" cy="83.1" r="1.55"/><circle cx="576.7" cy="119.7" r="1.55"/><circle cx="563.3" cy="85.1" r="1.55"/><circle cx="566.2" cy="104.4" r="1.55"/><circle cx="554.1" cy="104.7" r="1.55"/><circle cx="581.0" cy="80.8" r="1.55"/><circle cx="548.4" cy="101.8" r="1.55"/><circle cx="559.4" cy="117.0" r="1.55"/><circle cx="568.9" cy="84.6" r="1.55"/><circle cx="575.7" cy="81.7" r="1.55"/><circle cx="532.6" cy="107.8" r="1.55"/><circle cx="540.7" cy="122.7" r="1.55"/><circle cx="566.4" cy="109.2" r="1.55"/><circle cx="576.9" cy="75.0" r="1.55"/><circle cx="576.1" cy="139.5" r="1.55"/><circle cx="565.2" cy="96.7" r="1.55"/><circle cx="550.2" cy="103.9" r="1.55"/><circle cx="573.9" cy="92.6" r="1.55"/><circle cx="589.0" cy="75.7" r="1.55"/><circle cx="584.1" cy="91.6" r="1.55"/><circle cx="558.4" cy="108.3" r="1.55"/><circle cx="553.2" cy="99.7" r="1.55"/><circle cx="560.7" cy="105.8" r="1.55"/><circle cx="570.8" cy="90.0" r="1.55"/><circle cx="548.5" cy="144.8" r="1.55"/><circle cx="560.8" cy="65.9" r="1.55"/><circle cx="558.6" cy="120.3" r="1.55"/><circle cx="548.5" cy="129.7" r="1.55"/><circle cx="553.7" cy="97.0" r="1.55"/><circle cx="571.6" cy="99.6" r="1.55"/><circle cx="554.3" cy="131.0" r="1.55"/><circle cx="573.2" cy="80.3" r="1.55"/><circle cx="575.1" cy="97.6" r="1.55"/><circle cx="572.3" cy="113.3" r="1.55"/><circle cx="559.7" cy="91.3" r="1.55"/><circle cx="578.0" cy="96.7" r="1.55"/><circle cx="566.7" cy="83.9" r="1.55"/><circle cx="582.1" cy="100.2" r="1.55"/><circle cx="578.4" cy="104.2" r="1.55"/><circle cx="576.7" cy="76.0" r="1.55"/><circle cx="568.8" cy="88.4" r="1.55"/><circle cx="574.3" cy="80.6" r="1.55"/><circle cx="560.6" cy="115.2" r="1.55"/><circle cx="568.6" cy="106.9" r="1.55"/><circle cx="559.2" cy="88.5" r="1.55"/><circle cx="563.3" cy="119.0" r="1.55"/><circle cx="570.8" cy="93.7" r="1.55"/><circle cx="599.3" cy="52.7" r="1.55"/><circle cx="571.9" cy="108.3" r="1.55"/><circle cx="581.1" cy="76.7" r="1.55"/><circle cx="551.5" cy="140.8" r="1.55"/><circle cx="586.0" cy="111.8" r="1.55"/><circle cx="564.0" cy="149.1" r="1.55"/><circle cx="573.3" cy="110.7" r="1.55"/><circle cx="565.2" cy="110.1" r="1.55"/><circle cx="577.0" cy="79.5" r="1.55"/><circle cx="574.8" cy="80.4" r="1.55"/><circle cx="560.7" cy="110.8" r="1.55"/><circle cx="560.8" cy="113.1" r="1.55"/><circle cx="567.7" cy="68.9" r="1.55"/><circle cx="551.6" cy="138.1" r="1.55"/><circle cx="590.8" cy="72.0" r="1.55"/><circle cx="589.5" cy="80.5" r="1.55"/><circle cx="561.1" cy="118.9" r="1.55"/><circle cx="537.5" cy="156.5" r="1.55"/><circle cx="557.7" cy="83.0" r="1.55"/><circle cx="536.5" cy="140.6" r="1.55"/><circle cx="579.2" cy="103.4" r="1.55"/><circle cx="602.6" cy="54.3" r="1.55"/><circle cx="532.1" cy="124.4" r="1.55"/><circle cx="577.8" cy="104.2" r="1.55"/><circle cx="547.8" cy="134.5" r="1.55"/><circle cx="563.3" cy="112.2" r="1.55"/><circle cx="570.2" cy="108.5" r="1.55"/><circle cx="577.1" cy="80.2" r="1.55"/><circle cx="592.0" cy="95.3" r="1.55"/><circle cx="548.6" cy="119.2" r="1.55"/><circle cx="588.7" cy="99.7" r="1.55"/><circle cx="578.8" cy="103.5" r="1.55"/><circle cx="573.1" cy="112.7" r="1.55"/><circle cx="568.1" cy="118.3" r="1.55"/><circle cx="574.6" cy="95.3" r="1.55"/><circle cx="589.5" cy="77.5" r="1.55"/><circle cx="570.5" cy="118.4" r="1.55"/><circle cx="561.8" cy="142.1" r="1.55"/><circle cx="573.0" cy="91.1" r="1.55"/><circle cx="571.3" cy="81.8" r="1.55"/><circle cx="571.6" cy="85.9" r="1.55"/><circle cx="565.6" cy="110.8" r="1.55"/><circle cx="551.9" cy="94.7" r="1.55"/><circle cx="588.0" cy="57.8" r="1.55"/><circle cx="563.3" cy="141.9" r="1.55"/><circle cx="570.0" cy="102.6" r="1.55"/><circle cx="566.5" cy="82.1" r="1.55"/><circle cx="579.7" cy="100.4" r="1.55"/><circle cx="559.3" cy="115.9" r="1.55"/><circle cx="569.1" cy="91.2" r="1.55"/><circle cx="568.6" cy="107.5" r="1.55"/><circle cx="574.1" cy="129.3" r="1.55"/><circle cx="560.6" cy="120.8" r="1.55"/><circle cx="559.1" cy="104.9" r="1.55"/><circle cx="582.4" cy="94.3" r="1.55"/><circle cx="586.6" cy="72.9" r="1.55"/><circle cx="582.9" cy="91.3" r="1.55"/><circle cx="568.6" cy="69.4" r="1.55"/><circle cx="580.5" cy="133.9" r="1.55"/><circle cx="551.9" cy="91.4" r="1.55"/><circle cx="563.8" cy="118.2" r="1.55"/><circle cx="587.9" cy="62.3" r="1.55"/><circle cx="590.7" cy="63.2" r="1.55"/><circle cx="592.1" cy="84.6" r="1.55"/><circle cx="575.5" cy="100.2" r="1.55"/><circle cx="564.4" cy="94.9" r="1.55"/><circle cx="572.8" cy="69.8" r="1.55"/><circle cx="567.2" cy="83.3" r="1.55"/><circle cx="568.5" cy="88.8" r="1.55"/><circle cx="587.4" cy="65.2" r="1.55"/><circle cx="595.4" cy="98.1" r="1.55"/><circle cx="547.4" cy="153.6" r="1.55"/><circle cx="586.9" cy="84.1" r="1.55"/><circle cx="567.5" cy="79.0" r="1.55"/><circle cx="596.0" cy="51.8" r="1.55"/><circle cx="559.1" cy="89.9" r="1.55"/><circle cx="573.2" cy="78.0" r="1.55"/><circle cx="572.4" cy="102.4" r="1.55"/><circle cx="567.2" cy="80.8" r="1.55"/><circle cx="575.4" cy="55.9" r="1.55"/><circle cx="566.7" cy="118.5" r="1.55"/><circle cx="576.4" cy="88.4" r="1.55"/><circle cx="570.6" cy="100.7" r="1.55"/><circle cx="549.4" cy="94.2" r="1.55"/><circle cx="569.8" cy="68.0" r="1.55"/><circle cx="580.4" cy="100.7" r="1.55"/><circle cx="606.3" cy="106.8" r="1.55"/><circle cx="551.4" cy="119.0" r="1.55"/><circle cx="590.8" cy="97.1" r="1.55"/><circle cx="555.0" cy="88.3" r="1.55"/><circle cx="574.9" cy="59.2" r="1.55"/><circle cx="582.3" cy="101.0" r="1.55"/><circle cx="562.0" cy="103.9" r="1.55"/><circle cx="576.5" cy="78.7" r="1.55"/><circle cx="565.9" cy="78.9" r="1.55"/><circle cx="560.1" cy="87.5" r="1.55"/><circle cx="578.7" cy="137.7" r="1.55"/><circle cx="589.1" cy="86.2" r="1.55"/><circle cx="563.8" cy="113.5" r="1.55"/><circle cx="555.3" cy="87.6" r="1.55"/><circle cx="571.0" cy="74.4" r="1.55"/><circle cx="554.2" cy="87.0" r="1.55"/><circle cx="592.7" cy="72.9" r="1.55"/><circle cx="567.2" cy="76.8" r="1.55"/><circle cx="582.6" cy="111.1" r="1.55"/><circle cx="574.1" cy="99.3" r="1.55"/><circle cx="562.2" cy="81.4" r="1.55"/><circle cx="575.1" cy="85.6" r="1.55"/><circle cx="561.4" cy="130.7" r="1.55"/><circle cx="579.7" cy="79.6" r="1.55"/><circle cx="570.7" cy="113.2" r="1.55"/><circle cx="587.6" cy="66.9" r="1.55"/><circle cx="601.2" cy="56.6" r="1.55"/><circle cx="597.8" cy="81.8" r="1.55"/><circle cx="561.1" cy="103.5" r="1.55"/><circle cx="585.1" cy="82.5" r="1.55"/><circle cx="602.4" cy="63.2" r="1.55"/><circle cx="578.2" cy="88.6" r="1.55"/><circle cx="566.9" cy="95.5" r="1.55"/><circle cx="579.9" cy="107.1" r="1.55"/><circle cx="565.1" cy="100.0" r="1.55"/><circle cx="569.7" cy="84.4" r="1.55"/><circle cx="546.4" cy="83.4" r="1.55"/><circle cx="574.4" cy="80.6" r="1.55"/><circle cx="580.5" cy="88.8" r="1.55"/><circle cx="583.7" cy="148.1" r="1.55"/><circle cx="578.4" cy="88.1" r="1.55"/><circle cx="564.4" cy="135.4" r="1.55"/><circle cx="575.5" cy="78.4" r="1.55"/><circle cx="593.4" cy="91.7" r="1.55"/><circle cx="562.4" cy="91.8" r="1.55"/><circle cx="593.1" cy="60.0" r="1.55"/><circle cx="601.8" cy="106.9" r="1.55"/><circle cx="576.5" cy="84.2" r="1.55"/><circle cx="574.9" cy="80.3" r="1.55"/><circle cx="580.8" cy="84.8" r="1.55"/><circle cx="567.2" cy="102.5" r="1.55"/><circle cx="584.4" cy="84.1" r="1.55"/><circle cx="591.7" cy="80.2" r="1.55"/><circle cx="585.2" cy="86.4" r="1.55"/><circle cx="569.8" cy="96.4" r="1.55"/><circle cx="564.0" cy="53.4" r="1.55"/><circle cx="616.9" cy="99.6" r="1.55"/><circle cx="575.0" cy="141.1" r="1.55"/></g>
<g fill="#555" stroke="#111" stroke-width="0.9"><circle cx="575.8" cy="25.3" r="1.55"/><circle cx="578.0" cy="28.5" r="1.55"/><circle cx="590.9" cy="23.7" r="1.55"/><circle cx="523.2" cy="63.2" r="1.55"/><circle cx="523.6" cy="64.8" r="1.55"/><circle cx="614.2" cy="49.6" r="1.55"/><circle cx="620.0" cy="65.0" r="1.55"/><circle cx="625.5" cy="79.0" r="1.55"/><circle cx="617.0" cy="103.0" r="1.55"/><circle cx="594.4" cy="178.2" r="1.55"/><circle cx="594.9" cy="178.6" r="1.55"/></g>
<text x="0.90" y="286.60" font-size="24.5" text-anchor="start" fill="#000" stroke="#000" stroke-width="0.15" >C</text>
<line x1="66.90" y1="298.00" x2="66.90" y2="480.50" stroke="#666" stroke-width="1.5" />
<line x1="64.00" y1="307.20" x2="66.90" y2="307.20" stroke="#666" stroke-width="1.2" />
<text x="59.40" y="311.00" font-size="11" text-anchor="end" fill="#222" stroke="#222" stroke-width="0.15" >5</text>
<line x1="64.00" y1="348.30" x2="66.90" y2="348.30" stroke="#666" stroke-width="1.2" />
<text x="59.40" y="352.10" font-size="11" text-anchor="end" fill="#222" stroke="#222" stroke-width="0.15" >4</text>
<line x1="64.00" y1="389.20" x2="66.90" y2="389.20" stroke="#666" stroke-width="1.2" />
<text x="59.40" y="393.00" font-size="11" text-anchor="end" fill="#222" stroke="#222" stroke-width="0.15" >3</text>
<line x1="64.00" y1="430.30" x2="66.90" y2="430.30" stroke="#666" stroke-width="1.2" />
<text x="59.40" y="434.10" font-size="11" text-anchor="end" fill="#222" stroke="#222" stroke-width="0.15" >2</text>
<line x1="84.70" y1="343.70" x2="84.70" y2="375.90" stroke="#7a7a7a" stroke-width="1.5" />
<line x1="84.70" y1="397.50" x2="84.70" y2="431.30" stroke="#7a7a7a" stroke-width="1.5" />
<line x1="81.10" y1="343.70" x2="88.30" y2="343.70" stroke="#333" stroke-width="1.3" />
<line x1="81.10" y1="431.30" x2="88.30" y2="431.30" stroke="#333" stroke-width="1.3" />
<rect x="78.05" y="375.90" width="13.30" height="21.60" fill="#5c5c5c" stroke="#333" stroke-width="1.3"/>
<line x1="77.05" y1="387.20" x2="92.35" y2="387.20" stroke="#000" stroke-width="3" />
<line x1="104.00" y1="339.90" x2="104.00" y2="374.30" stroke="#7a7a7a" stroke-width="1.5" />
<line x1="104.00" y1="397.50" x2="104.00" y2="429.10" stroke="#7a7a7a" stroke-width="1.5" />
<line x1="100.40" y1="339.90" x2="107.60" y2="339.90" stroke="#333" stroke-width="1.3" />
<line x1="100.40" y1="429.10" x2="107.60" y2="429.10" stroke="#333" stroke-width="1.3" />
<rect x="97.35" y="374.30" width="13.30" height="23.20" fill="#5c5c5c" stroke="#333" stroke-width="1.3"/>
<line x1="96.35" y1="387.20" x2="111.65" y2="387.20" stroke="#000" stroke-width="3" />
<line x1="123.90" y1="338.40" x2="123.90" y2="366.90" stroke="#7a7a7a" stroke-width="1.5" />
<line x1="123.90" y1="389.90" x2="123.90" y2="414.10" stroke="#7a7a7a" stroke-width="1.5" />
<line x1="120.30" y1="338.40" x2="127.50" y2="338.40" stroke="#333" stroke-width="1.3" />
<line x1="120.30" y1="414.10" x2="127.50" y2="414.10" stroke="#333" stroke-width="1.3" />
<rect x="117.20" y="366.90" width="13.40" height="23.00" fill="#5c5c5c" stroke="#333" stroke-width="1.3"/>
<line x1="116.20" y1="378.90" x2="131.60" y2="378.90" stroke="#000" stroke-width="3" />
<line x1="145.60" y1="342.90" x2="145.60" y2="372.10" stroke="#7a7a7a" stroke-width="1.5" />
<line x1="145.60" y1="394.50" x2="145.60" y2="408.80" stroke="#7a7a7a" stroke-width="1.5" />
<line x1="142.00" y1="342.90" x2="149.20" y2="342.90" stroke="#333" stroke-width="1.3" />
<line x1="142.00" y1="408.80" x2="149.20" y2="408.80" stroke="#333" stroke-width="1.3" />
<rect x="138.65" y="372.10" width="13.90" height="22.40" fill="#5c5c5c" stroke="#333" stroke-width="1.3"/>
<line x1="137.65" y1="386.10" x2="153.55" y2="386.10" stroke="#000" stroke-width="3" />
<line x1="76.60" y1="296.50" x2="119.00" y2="296.50" stroke="#333" stroke-width="1.3" />
<path d="M89.80,283.50L89.80,289.70M87.12,285.05L92.48,288.15M92.48,285.05L87.12,288.15" stroke="#111" stroke-width="1.3" fill="none"/>
<path d="M98.90,283.50L98.90,289.70M96.22,285.05L101.58,288.15M101.58,285.05L96.22,288.15" stroke="#111" stroke-width="1.3" fill="none"/>
<path d="M108.00,283.50L108.00,289.70M105.32,285.05L110.68,288.15M110.68,285.05L105.32,288.15" stroke="#111" stroke-width="1.3" fill="none"/>
<line x1="100.10" y1="315.10" x2="122.50" y2="315.10" stroke="#333" stroke-width="1.3" />
<path d="M103.10,303.50L103.10,309.70M100.42,305.05L105.78,308.15M105.78,305.05L100.42,308.15" stroke="#111" stroke-width="1.3" fill="none"/>
<path d="M112.20,303.50L112.20,309.70M109.52,305.05L114.88,308.15M114.88,305.05L109.52,308.15" stroke="#111" stroke-width="1.3" fill="none"/>
<path d="M121.30,303.50L121.30,309.70M118.62,305.05L123.98,308.15M123.98,305.05L118.62,308.15" stroke="#111" stroke-width="1.3" fill="none"/>
<text transform="translate(70.29,462.95) scale(1.068,1)" font-size="11.00" fill="#222" stroke="#222" stroke-width="0.15">p&lt;0.001</text>
<text transform="translate(32.04,419.00) rotate(-90) scale(1.037,1)" font-size="13.85" fill="#222" stroke="#222" stroke-width="0.15">Log CXCL10</text>
<text transform="translate(89.31,510.45) rotate(-90) scale(1.011,1)" font-size="13.94" fill="#222" stroke="#222" stroke-width="0.15">CVD</text>
<text transform="translate(108.51,527.43) rotate(-90) scale(1.007,1)" font-size="14.14" fill="#222" stroke="#222" stroke-width="0.15">Trauma</text>
<text transform="translate(128.22,522.72) rotate(-90) scale(1.120,1)" font-size="12.79" fill="#222" stroke="#222" stroke-width="0.15">Anoxia</text>
<text transform="translate(149.42,515.16) rotate(-90) scale(1.042,1)" font-size="13.06" fill="#222" stroke="#222" stroke-width="0.15">Other</text>
<text x="246.60" y="286.20" font-size="24.5" text-anchor="start" fill="#000" stroke="#000" stroke-width="0.15" transform="translate(247,0) scale(0.96,1) translate(-247,0)">D</text>
<line x1="294.50" y1="290.00" x2="294.50" y2="477.00" stroke="#333" stroke-width="1.3" />
<line x1="291.10" y1="468.20" x2="294.50" y2="468.20" stroke="#333" stroke-width="1.2" />
<text x="286.30" y="473.00" font-size="11" text-anchor="end" fill="#222" stroke="#222" stroke-width="0.15" >0</text>
<line x1="291.10" y1="434.50" x2="294.50" y2="434.50" stroke="#333" stroke-width="1.2" />
<text x="286.30" y="439.50" font-size="11" text-anchor="end" fill="#222" stroke="#222" stroke-width="0.15" >1</text>
<line x1="291.10" y1="400.80" x2="294.50" y2="400.80" stroke="#333" stroke-width="1.2" />
<text x="286.30" y="406.00" font-size="11" text-anchor="end" fill="#222" stroke="#222" stroke-width="0.15" >2</text>
<line x1="291.10" y1="367.10" x2="294.50" y2="367.10" stroke="#333" stroke-width="1.2" />
<text x="286.30" y="371.30" font-size="11" text-anchor="end" fill="#222" stroke="#222" stroke-width="0.15" >3</text>
<line x1="291.10" y1="333.40" x2="294.50" y2="333.40" stroke="#333" stroke-width="1.2" />
<text x="286.30" y="336.00" font-size="11" text-anchor="end" fill="#222" stroke="#222" stroke-width="0.15" >4</text>
<line x1="291.10" y1="299.70" x2="294.50" y2="299.70" stroke="#333" stroke-width="1.2" />
<text x="286.30" y="301.50" font-size="11" text-anchor="end" fill="#222" stroke="#222" stroke-width="0.15" >5</text>
<text transform="translate(266.65,386.41) rotate(-90) scale(1.179,1)" font-size="13.33" fill="#222" stroke="#222" stroke-width="0.15">Log</text>
<line x1="313.20" y1="355.60" x2="313.20" y2="385.60" stroke="#7a7a7a" stroke-width="1.5" />
<line x1="313.20" y1="407.50" x2="313.20" y2="433.30" stroke="#7a7a7a" stroke-width="1.5" />
<line x1="309.45" y1="355.60" x2="316.95" y2="355.60" stroke="#333" stroke-width="1.3" />
<line x1="309.45" y1="433.30" x2="316.95" y2="433.30" stroke="#333" stroke-width="1.3" />
<rect x="306.20" y="385.60" width="14.00" height="21.90" fill="#5c5c5c" stroke="#333" stroke-width="1.3"/>
<line x1="305.20" y1="396.00" x2="321.20" y2="396.00" stroke="#000" stroke-width="3" />
<line x1="331.20" y1="324.30" x2="331.20" y2="369.20" stroke="#7a7a7a" stroke-width="1.5" />
<line x1="331.20" y1="398.50" x2="331.20" y2="431.90" stroke="#7a7a7a" stroke-width="1.5" />
<line x1="327.45" y1="324.30" x2="334.95" y2="324.30" stroke="#333" stroke-width="1.3" />
<line x1="327.45" y1="431.90" x2="334.95" y2="431.90" stroke="#333" stroke-width="1.3" />
<rect x="324.20" y="369.20" width="14.00" height="29.30" fill="#5c5c5c" stroke="#333" stroke-width="1.3"/>
<line x1="323.20" y1="383.10" x2="339.20" y2="383.10" stroke="#000" stroke-width="3" />
<line x1="348.50" y1="320.50" x2="348.50" y2="360.80" stroke="#7a7a7a" stroke-width="1.5" />
<line x1="348.50" y1="395.80" x2="348.50" y2="422.10" stroke="#7a7a7a" stroke-width="1.5" />
<line x1="344.75" y1="320.50" x2="352.25" y2="320.50" stroke="#333" stroke-width="1.3" />
<line x1="344.75" y1="422.10" x2="352.25" y2="422.10" stroke="#333" stroke-width="1.3" />
<rect x="341.50" y="360.80" width="14.00" height="35.00" fill="#5c5c5c" stroke="#333" stroke-width="1.3"/>
<line x1="340.50" y1="379.80" x2="356.50" y2="379.80" stroke="#000" stroke-width="3" />
<line x1="366.60" y1="327.80" x2="366.60" y2="338.40" stroke="#7a7a7a" stroke-width="1.5" />
<line x1="366.60" y1="393.70" x2="366.60" y2="403.40" stroke="#7a7a7a" stroke-width="1.5" />
<line x1="362.85" y1="327.80" x2="370.35" y2="327.80" stroke="#333" stroke-width="1.3" />
<line x1="362.85" y1="403.40" x2="370.35" y2="403.40" stroke="#333" stroke-width="1.3" />
<rect x="359.60" y="338.40" width="14.00" height="55.30" fill="#5c5c5c" stroke="#333" stroke-width="1.3"/>
<line x1="358.60" y1="381.70" x2="374.60" y2="381.70" stroke="#000" stroke-width="3" />
<line x1="397.00" y1="334.70" x2="397.00" y2="359.60" stroke="#7a7a7a" stroke-width="1.5" />
<line x1="397.00" y1="377.90" x2="397.00" y2="399.70" stroke="#7a7a7a" stroke-width="1.5" />
<line x1="393.00" y1="334.70" x2="401.00" y2="334.70" stroke="#333" stroke-width="1.3" />
<line x1="393.00" y1="399.70" x2="401.00" y2="399.70" stroke="#333" stroke-width="1.3" />
<rect x="390.25" y="359.60" width="13.50" height="18.30" fill="#7f7f7f" stroke="#333" stroke-width="1.3"/>
<line x1="389.25" y1="369.90" x2="404.75" y2="369.90" stroke="#000" stroke-width="3" />
<line x1="414.30" y1="329.40" x2="414.30" y2="355.20" stroke="#7a7a7a" stroke-width="1.5" />
<line x1="414.30" y1="373.40" x2="414.30" y2="399.70" stroke="#7a7a7a" stroke-width="1.5" />
<line x1="410.30" y1="329.40" x2="418.30" y2="329.40" stroke="#333" stroke-width="1.3" />
<line x1="410.30" y1="399.70" x2="418.30" y2="399.70" stroke="#333" stroke-width="1.3" />
<rect x="407.50" y="355.20" width="13.60" height="18.20" fill="#7f7f7f" stroke="#333" stroke-width="1.3"/>
<line x1="406.50" y1="364.60" x2="422.10" y2="364.60" stroke="#000" stroke-width="3" />
<line x1="432.40" y1="324.40" x2="432.40" y2="350.60" stroke="#7a7a7a" stroke-width="1.5" />
<line x1="432.40" y1="370.40" x2="432.40" y2="389.40" stroke="#7a7a7a" stroke-width="1.5" />
<line x1="428.40" y1="324.40" x2="436.40" y2="324.40" stroke="#333" stroke-width="1.3" />
<line x1="428.40" y1="389.40" x2="436.40" y2="389.40" stroke="#333" stroke-width="1.3" />
<rect x="425.30" y="350.60" width="14.20" height="19.80" fill="#7f7f7f" stroke="#333" stroke-width="1.3"/>
<line x1="424.30" y1="361.60" x2="440.50" y2="361.60" stroke="#000" stroke-width="3" />
<line x1="450.30" y1="338.50" x2="450.30" y2="353.30" stroke="#7a7a7a" stroke-width="1.5" />
<line x1="450.30" y1="369.20" x2="450.30" y2="373.40" stroke="#7a7a7a" stroke-width="1.5" />
<line x1="446.30" y1="338.50" x2="454.30" y2="338.50" stroke="#333" stroke-width="1.3" />
<line x1="446.30" y1="373.40" x2="454.30" y2="373.40" stroke="#333" stroke-width="1.3" />
<rect x="443.35" y="353.30" width="13.90" height="15.90" fill="#7f7f7f" stroke="#333" stroke-width="1.3"/>
<line x1="442.35" y1="360.80" x2="458.25" y2="360.80" stroke="#000" stroke-width="3" />
<line x1="305.60" y1="279.20" x2="362.90" y2="279.20" stroke="#333" stroke-width="1.3" />
<path d="M330.80,269.20L330.80,275.40M328.12,270.75L333.48,273.85M333.48,270.75L328.12,273.85" stroke="#111" stroke-width="1.3" fill="none"/>
<line x1="306.30" y1="292.10" x2="349.00" y2="292.10" stroke="#333" stroke-width="1.3" />
<path d="M321.00,283.30L321.00,289.50M318.32,284.85L323.68,287.95M323.68,284.85L318.32,287.95" stroke="#111" stroke-width="1.3" fill="none"/>
<path d="M330.10,283.30L330.10,289.50M327.42,284.85L332.78,287.95M332.78,284.85L327.42,287.95" stroke="#111" stroke-width="1.3" fill="none"/>
<path d="M339.20,283.30L339.20,289.50M336.52,284.85L341.88,287.95M341.88,284.85L336.52,287.95" stroke="#111" stroke-width="1.3" fill="none"/>
<line x1="302.90" y1="306.10" x2="332.40" y2="306.10" stroke="#333" stroke-width="1.3" />
<path d="M309.20,298.90L309.20,305.10M306.52,300.45L311.88,303.55M311.88,300.45L306.52,303.55" stroke="#111" stroke-width="1.3" fill="none"/>
<path d="M318.30,298.90L318.30,305.10M315.62,300.45L320.98,303.55M320.98,300.45L315.62,303.55" stroke="#111" stroke-width="1.3" fill="none"/>
<path d="M327.10,298.90L327.10,305.10M324.42,300.45L329.78,303.55M329.78,300.45L324.42,303.55" stroke="#111" stroke-width="1.3" fill="none"/>
<line x1="330.50" y1="313.40" x2="350.50" y2="313.40" stroke="#333" stroke-width="1.3" />
<path d="M340.70,304.40L340.70,310.60M338.02,305.95L343.38,309.05M343.38,305.95L338.02,309.05" stroke="#111" stroke-width="1.3" fill="none"/>
<line x1="391.90" y1="291.80" x2="434.70" y2="291.80" stroke="#333" stroke-width="1.3" />
<path d="M406.30,283.30L406.30,289.50M403.62,284.85L408.98,287.95M408.98,284.85L403.62,287.95" stroke="#111" stroke-width="1.3" fill="none"/>
<path d="M415.40,283.30L415.40,289.50M412.72,284.85L418.08,287.95M418.08,284.85L412.72,287.95" stroke="#111" stroke-width="1.3" fill="none"/>
<path d="M424.50,283.30L424.50,289.50M421.82,284.85L427.18,287.95M427.18,284.85L421.82,287.95" stroke="#111" stroke-width="1.3" fill="none"/>
<line x1="388.20" y1="306.10" x2="417.70" y2="306.10" stroke="#333" stroke-width="1.3" />
<path d="M404.50,299.20L404.50,305.40M401.82,300.75L407.18,303.85M407.18,300.75L401.82,303.85" stroke="#111" stroke-width="1.3" fill="none"/>
<line x1="415.80" y1="313.40" x2="435.80" y2="313.40" stroke="#333" stroke-width="1.3" />
<path d="M426.00,304.20L426.00,310.40M423.32,305.75L428.68,308.85M428.68,305.75L423.32,308.85" stroke="#111" stroke-width="1.3" fill="none"/>
<text transform="translate(304.09,456.65) scale(1.108,1)" font-size="10.57" fill="#222" stroke="#222" stroke-width="0.15">p&lt;0.001</text>
<text transform="translate(393.39,456.45) scale(1.054,1)" font-size="11.14" fill="#222" stroke="#222" stroke-width="0.15">p&lt;0.001</text>
<text x="313.40" y="479.50" font-size="13" text-anchor="middle" fill="#222" stroke="#222" stroke-width="0.15" >0</text>
<text x="331.40" y="479.50" font-size="13" text-anchor="middle" fill="#222" stroke="#222" stroke-width="0.15" >1</text>
<text x="348.60" y="479.50" font-size="13" text-anchor="middle" fill="#222" stroke="#222" stroke-width="0.15" >2</text>
<text x="366.60" y="479.50" font-size="13" text-anchor="middle" fill="#222" stroke="#222" stroke-width="0.15" >3</text>
<text x="397.70" y="479.50" font-size="13" text-anchor="middle" fill="#222" stroke="#222" stroke-width="0.15" >0</text>
<text x="415.10" y="479.50" font-size="13" text-anchor="middle" fill="#222" stroke="#222" stroke-width="0.15" >1</text>
<text x="431.60" y="479.50" font-size="13" text-anchor="middle" fill="#222" stroke="#222" stroke-width="0.15" >2</text>
<text x="449.20" y="479.50" font-size="13" text-anchor="middle" fill="#222" stroke="#222" stroke-width="0.15" >3</text>
<line x1="307.50" y1="484.60" x2="364.80" y2="484.60" stroke="#333" stroke-width="1.3" />
<line x1="394.40" y1="484.60" x2="451.40" y2="484.60" stroke="#333" stroke-width="1.3" />
<text transform="translate(327.63,502.01) scale(1.076,1)" font-size="13.66" fill="#222" stroke="#222" stroke-width="0.15">IL-6</text>
<text transform="translate(394.74,502.01) scale(1.041,1)" font-size="13.66" fill="#222" stroke="#222" stroke-width="0.15">CXCL10</text>
<text transform="translate(321.13,523.05) scale(1.046,1)" font-size="13.38" fill="#222" stroke="#222" stroke-width="0.15">Number of inotropes</text>
<text x="490.00" y="285.80" font-size="24.5" text-anchor="start" fill="#000" stroke="#000" stroke-width="0.15" transform="translate(490,0) scale(0.96,1) translate(-490,0)">E</text>
<line x1="546.10" y1="273.30" x2="546.10" y2="378.10" stroke="#333" stroke-width="1.3" />
<line x1="542.50" y1="373.10" x2="546.10" y2="373.10" stroke="#333" stroke-width="1.2" />
<line x1="542.50" y1="349.45" x2="546.10" y2="349.45" stroke="#333" stroke-width="1.2" />
<text x="539.20" y="354.15" font-size="11" text-anchor="end" fill="#222" stroke="#222" stroke-width="0.15" >10</text>
<line x1="542.50" y1="325.80" x2="546.10" y2="325.80" stroke="#333" stroke-width="1.2" />
<text x="539.20" y="330.50" font-size="11" text-anchor="end" fill="#222" stroke="#222" stroke-width="0.15" >20</text>
<line x1="542.50" y1="302.15" x2="546.10" y2="302.15" stroke="#333" stroke-width="1.2" />
<text x="539.20" y="306.85" font-size="11" text-anchor="end" fill="#222" stroke="#222" stroke-width="0.15" >30</text>
<line x1="542.50" y1="278.50" x2="546.10" y2="278.50" stroke="#333" stroke-width="1.2" />
<text x="539.20" y="283.20" font-size="11" text-anchor="end" fill="#222" stroke="#222" stroke-width="0.15" >40</text>
<line x1="546.40" y1="388.20" x2="546.40" y2="492.50" stroke="#333" stroke-width="1.3" />
<line x1="542.80" y1="487.00" x2="546.40" y2="487.00" stroke="#333" stroke-width="1.2" />
<line x1="542.80" y1="463.55" x2="546.40" y2="463.55" stroke="#333" stroke-width="1.2" />
<text x="539.40" y="468.05" font-size="11" text-anchor="end" fill="#222" stroke="#222" stroke-width="0.15" >10</text>
<line x1="542.80" y1="440.10" x2="546.40" y2="440.10" stroke="#333" stroke-width="1.2" />
<text x="539.40" y="444.60" font-size="11" text-anchor="end" fill="#222" stroke="#222" stroke-width="0.15" >20</text>
<line x1="542.80" y1="416.65" x2="546.40" y2="416.65" stroke="#333" stroke-width="1.2" />
<text x="539.40" y="421.15" font-size="11" text-anchor="end" fill="#222" stroke="#222" stroke-width="0.15" >30</text>
<line x1="542.80" y1="393.20" x2="546.40" y2="393.20" stroke="#333" stroke-width="1.2" />
<text x="539.40" y="397.70" font-size="11" text-anchor="end" fill="#222" stroke="#222" stroke-width="0.15" >40</text>
<line x1="546.40" y1="492.50" x2="652.20" y2="492.50" stroke="#333" stroke-width="1.3" />
<line x1="551.60" y1="492.50" x2="551.60" y2="496.00" stroke="#333" stroke-width="1.2" />
<text x="551.60" y="508.20" font-size="11" text-anchor="middle" fill="#222" stroke="#222" stroke-width="0.15" >1</text>
<line x1="575.50" y1="492.50" x2="575.50" y2="496.00" stroke="#333" stroke-width="1.2" />
<text x="575.50" y="508.20" font-size="11" text-anchor="middle" fill="#222" stroke="#222" stroke-width="0.15" >2</text>
<line x1="599.40" y1="492.50" x2="599.40" y2="496.00" stroke="#333" stroke-width="1.2" />
<text x="599.40" y="508.20" font-size="11" text-anchor="middle" fill="#222" stroke="#222" stroke-width="0.15" >3</text>
<line x1="623.30" y1="492.50" x2="623.30" y2="496.00" stroke="#333" stroke-width="1.2" />
<text x="623.30" y="508.20" font-size="11" text-anchor="middle" fill="#222" stroke="#222" stroke-width="0.15" >4</text>
<line x1="647.20" y1="492.50" x2="647.20" y2="496.00" stroke="#333" stroke-width="1.2" />
<text x="647.20" y="508.20" font-size="11" text-anchor="middle" fill="#222" stroke="#222" stroke-width="0.15" >5</text>
<text transform="translate(588.62,523.05) scale(1.113,1)" font-size="13.77" fill="#222" stroke="#222" stroke-width="0.15">Log</text>
<text transform="translate(513.80,428.72) rotate(-90) scale(1.054,1)" font-size="13.58" fill="#222" stroke="#222" stroke-width="0.15">WBC (cell/mm3)</text>
<text transform="translate(612.32,285.71) scale(1.035,1)" font-size="14.08" fill="#222" stroke="#222" stroke-width="0.15">CXCL10</text>
<text transform="translate(641.55,400.61) scale(1.016,1)" font-size="14.23" fill="#222" stroke="#222" stroke-width="0.15">IL-6</text>
<g fill="#6a6a6a" stroke="#2a2a2a" stroke-width="0.7"><circle cx="595.1" cy="339.0" r="0.9"/><circle cx="589.5" cy="342.3" r="0.9"/><circle cx="601.0" cy="322.9" r="0.9"/><circle cx="608.2" cy="335.7" r="0.9"/><circle cx="615.9" cy="330.5" r="0.9"/><circle cx="604.9" cy="357.7" r="0.9"/><circle cx="597.8" cy="351.8" r="0.9"/><circle cx="595.3" cy="335.6" r="0.9"/><circle cx="611.8" cy="334.9" r="0.9"/><circle cx="621.3" cy="345.3" r="0.9"/><circle cx="606.6" cy="336.2" r="0.9"/><circle cx="590.4" cy="356.2" r="0.9"/><circle cx="593.4" cy="342.4" r="0.9"/><circle cx="620.9" cy="357.2" r="0.9"/><circle cx="605.9" cy="341.0" r="0.9"/><circle cx="585.1" cy="350.0" r="0.9"/><circle cx="602.8" cy="351.7" r="0.9"/><circle cx="591.2" cy="344.1" r="0.9"/><circle cx="596.9" cy="324.9" r="0.9"/><circle cx="598.5" cy="355.7" r="0.9"/><circle cx="596.0" cy="351.3" r="0.9"/><circle cx="609.7" cy="333.1" r="0.9"/><circle cx="603.0" cy="349.3" r="0.9"/><circle cx="597.4" cy="325.5" r="0.9"/><circle cx="608.1" cy="342.3" r="0.9"/><circle cx="612.6" cy="343.7" r="0.9"/><circle cx="586.0" cy="340.8" r="0.9"/><circle cx="600.9" cy="325.8" r="0.9"/><circle cx="593.2" cy="337.6" r="0.9"/><circle cx="601.8" cy="339.1" r="0.9"/><circle cx="589.8" cy="342.0" r="0.9"/><circle cx="603.9" cy="361.7" r="0.9"/><circle cx="603.3" cy="354.4" r="0.9"/><circle cx="600.4" cy="328.6" r="0.9"/><circle cx="592.4" cy="335.8" r="0.9"/><circle cx="599.4" cy="339.2" r="0.9"/><circle cx="592.0" cy="337.8" r="0.9"/><circle cx="589.1" cy="350.6" r="0.9"/><circle cx="606.1" cy="341.0" r="0.9"/><circle cx="591.8" cy="354.5" r="0.9"/><circle cx="616.3" cy="340.5" r="0.9"/><circle cx="611.4" cy="352.5" r="0.9"/><circle cx="582.2" cy="347.0" r="0.9"/><circle cx="606.6" cy="339.8" r="0.9"/><circle cx="591.9" cy="348.3" r="0.9"/><circle cx="604.1" cy="337.7" r="0.9"/><circle cx="604.2" cy="339.8" r="0.9"/><circle cx="582.3" cy="340.8" r="0.9"/><circle cx="601.2" cy="330.3" r="0.9"/><circle cx="601.0" cy="360.8" r="0.9"/><circle cx="614.0" cy="362.1" r="0.9"/><circle cx="591.0" cy="338.0" r="0.9"/><circle cx="611.6" cy="334.5" r="0.9"/><circle cx="591.9" cy="322.8" r="0.9"/><circle cx="600.1" cy="336.5" r="0.9"/><circle cx="594.7" cy="335.7" r="0.9"/><circle cx="619.3" cy="354.3" r="0.9"/><circle cx="609.8" cy="336.5" r="0.9"/><circle cx="629.9" cy="337.4" r="0.9"/><circle cx="610.6" cy="356.2" r="0.9"/><circle cx="612.8" cy="354.5" r="0.9"/><circle cx="612.7" cy="345.9" r="0.9"/><circle cx="597.2" cy="341.6" r="0.9"/><circle cx="602.9" cy="365.7" r="0.9"/><circle cx="618.2" cy="344.0" r="0.9"/><circle cx="599.4" cy="342.2" r="0.9"/><circle cx="605.7" cy="346.6" r="0.9"/><circle cx="603.5" cy="341.8" r="0.9"/><circle cx="610.3" cy="339.8" r="0.9"/><circle cx="599.8" cy="355.7" r="0.9"/><circle cx="602.1" cy="340.2" r="0.9"/><circle cx="606.3" cy="347.5" r="0.9"/><circle cx="604.8" cy="355.0" r="0.9"/><circle cx="594.4" cy="342.4" r="0.9"/><circle cx="613.3" cy="328.5" r="0.9"/><circle cx="589.7" cy="360.6" r="0.9"/><circle cx="590.8" cy="362.7" r="0.9"/><circle cx="589.9" cy="362.7" r="0.9"/><circle cx="614.1" cy="323.2" r="0.9"/><circle cx="599.8" cy="347.5" r="0.9"/><circle cx="593.3" cy="345.4" r="0.9"/><circle cx="591.5" cy="353.3" r="0.9"/><circle cx="608.2" cy="355.0" r="0.9"/><circle cx="592.4" cy="366.8" r="0.9"/><circle cx="590.0" cy="342.9" r="0.9"/><circle cx="610.3" cy="341.9" r="0.9"/><circle cx="590.8" cy="366.2" r="0.9"/><circle cx="600.2" cy="356.1" r="0.9"/><circle cx="603.6" cy="352.8" r="0.9"/><circle cx="598.9" cy="345.0" r="0.9"/><circle cx="603.1" cy="342.1" r="0.9"/><circle cx="618.1" cy="332.5" r="0.9"/><circle cx="598.1" cy="329.9" r="0.9"/><circle cx="590.2" cy="333.1" r="0.9"/><circle cx="583.9" cy="330.1" r="0.9"/><circle cx="601.5" cy="357.4" r="0.9"/><circle cx="599.9" cy="350.8" r="0.9"/><circle cx="606.6" cy="332.3" r="0.9"/><circle cx="598.7" cy="341.6" r="0.9"/><circle cx="598.6" cy="344.5" r="0.9"/><circle cx="595.9" cy="366.2" r="0.9"/><circle cx="598.1" cy="364.9" r="0.9"/><circle cx="605.4" cy="336.8" r="0.9"/><circle cx="599.6" cy="341.0" r="0.9"/><circle cx="604.8" cy="347.9" r="0.9"/><circle cx="624.1" cy="349.2" r="0.9"/><circle cx="608.9" cy="363.5" r="0.9"/><circle cx="586.8" cy="340.7" r="0.9"/><circle cx="622.3" cy="333.5" r="0.9"/><circle cx="607.4" cy="326.9" r="0.9"/><circle cx="593.6" cy="344.2" r="0.9"/><circle cx="613.5" cy="346.9" r="0.9"/><circle cx="603.9" cy="356.6" r="0.9"/><circle cx="597.1" cy="331.4" r="0.9"/><circle cx="596.9" cy="326.2" r="0.9"/><circle cx="593.0" cy="351.4" r="0.9"/><circle cx="604.2" cy="341.6" r="0.9"/><circle cx="615.2" cy="343.7" r="0.9"/><circle cx="600.2" cy="351.0" r="0.9"/><circle cx="608.2" cy="364.0" r="0.9"/><circle cx="623.9" cy="348.7" r="0.9"/><circle cx="590.6" cy="338.1" r="0.9"/><circle cx="606.5" cy="360.4" r="0.9"/><circle cx="600.4" cy="353.8" r="0.9"/><circle cx="592.3" cy="367.3" r="0.9"/><circle cx="592.7" cy="330.7" r="0.9"/><circle cx="603.5" cy="339.3" r="0.9"/><circle cx="608.4" cy="344.2" r="0.9"/><circle cx="598.0" cy="347.7" r="0.9"/><circle cx="604.3" cy="351.7" r="0.9"/><circle cx="611.5" cy="345.6" r="0.9"/><circle cx="606.9" cy="348.1" r="0.9"/><circle cx="613.0" cy="347.4" r="0.9"/><circle cx="608.7" cy="345.1" r="0.9"/><circle cx="609.0" cy="343.4" r="0.9"/><circle cx="623.3" cy="327.9" r="0.9"/><circle cx="610.4" cy="360.5" r="0.9"/><circle cx="605.1" cy="341.9" r="0.9"/><circle cx="611.3" cy="351.5" r="0.9"/><circle cx="593.8" cy="357.1" r="0.9"/><circle cx="600.1" cy="363.1" r="0.9"/><circle cx="612.2" cy="338.1" r="0.9"/><circle cx="610.5" cy="355.5" r="0.9"/><circle cx="620.4" cy="353.0" r="0.9"/><circle cx="603.8" cy="339.7" r="0.9"/><circle cx="588.0" cy="356.6" r="0.9"/><circle cx="624.6" cy="344.5" r="0.9"/><circle cx="615.5" cy="345.6" r="0.9"/><circle cx="592.3" cy="336.1" r="0.9"/><circle cx="618.5" cy="333.8" r="0.9"/><circle cx="604.1" cy="354.3" r="0.9"/><circle cx="584.2" cy="334.9" r="0.9"/><circle cx="599.2" cy="345.9" r="0.9"/><circle cx="598.2" cy="343.5" r="0.9"/><circle cx="620.8" cy="347.1" r="0.9"/><circle cx="595.2" cy="336.4" r="0.9"/><circle cx="601.0" cy="358.0" r="0.9"/><circle cx="600.7" cy="342.0" r="0.9"/><circle cx="599.6" cy="332.0" r="0.9"/><circle cx="593.9" cy="347.9" r="0.9"/><circle cx="606.1" cy="322.8" r="0.9"/><circle cx="615.3" cy="352.8" r="0.9"/><circle cx="610.4" cy="342.5" r="0.9"/><circle cx="593.7" cy="350.1" r="0.9"/><circle cx="591.3" cy="351.6" r="0.9"/><circle cx="605.0" cy="357.0" r="0.9"/><circle cx="596.1" cy="350.7" r="0.9"/><circle cx="596.9" cy="345.4" r="0.9"/><circle cx="585.6" cy="353.6" r="0.9"/><circle cx="624.7" cy="335.2" r="0.9"/><circle cx="613.6" cy="328.3" r="0.9"/><circle cx="593.2" cy="361.5" r="0.9"/><circle cx="613.5" cy="335.7" r="0.9"/><circle cx="618.1" cy="342.8" r="0.9"/><circle cx="578.0" cy="342.2" r="0.9"/><circle cx="597.8" cy="318.1" r="0.9"/><circle cx="599.5" cy="331.7" r="0.9"/><circle cx="610.7" cy="341.2" r="0.9"/><circle cx="602.4" cy="342.8" r="0.9"/><circle cx="601.2" cy="368.3" r="0.9"/><circle cx="603.1" cy="336.3" r="0.9"/><circle cx="623.6" cy="352.9" r="0.9"/><circle cx="626.9" cy="342.8" r="0.9"/><circle cx="598.1" cy="343.7" r="0.9"/><circle cx="593.7" cy="334.3" r="0.9"/><circle cx="632.7" cy="322.6" r="0.9"/><circle cx="593.2" cy="334.0" r="0.9"/><circle cx="597.5" cy="330.9" r="0.9"/><circle cx="604.1" cy="347.3" r="0.9"/><circle cx="608.9" cy="339.8" r="0.9"/><circle cx="614.8" cy="336.4" r="0.9"/><circle cx="607.9" cy="360.4" r="0.9"/><circle cx="594.3" cy="322.5" r="0.9"/><circle cx="609.1" cy="352.5" r="0.9"/><circle cx="606.4" cy="358.6" r="0.9"/><circle cx="623.9" cy="326.9" r="0.9"/><circle cx="603.5" cy="321.7" r="0.9"/><circle cx="589.3" cy="352.4" r="0.9"/><circle cx="592.5" cy="351.4" r="0.9"/><circle cx="619.3" cy="310.9" r="0.9"/><circle cx="597.9" cy="343.5" r="0.9"/><circle cx="581.1" cy="366.3" r="0.9"/><circle cx="597.5" cy="351.4" r="0.9"/><circle cx="603.7" cy="322.9" r="0.9"/><circle cx="616.5" cy="337.5" r="0.9"/><circle cx="592.8" cy="336.5" r="0.9"/><circle cx="610.9" cy="331.4" r="0.9"/><circle cx="612.3" cy="337.4" r="0.9"/><circle cx="596.2" cy="348.3" r="0.9"/><circle cx="601.7" cy="362.1" r="0.9"/><circle cx="622.7" cy="339.9" r="0.9"/><circle cx="622.2" cy="356.9" r="0.9"/><circle cx="612.9" cy="345.3" r="0.9"/><circle cx="607.3" cy="325.6" r="0.9"/><circle cx="615.9" cy="338.8" r="0.9"/><circle cx="602.2" cy="344.1" r="0.9"/><circle cx="602.7" cy="344.0" r="0.9"/><circle cx="594.4" cy="336.8" r="0.9"/><circle cx="603.8" cy="334.7" r="0.9"/><circle cx="602.8" cy="359.0" r="0.9"/><circle cx="633.5" cy="342.7" r="0.9"/><circle cx="601.6" cy="326.1" r="0.9"/><circle cx="617.4" cy="336.5" r="0.9"/><circle cx="617.9" cy="353.0" r="0.9"/><circle cx="601.7" cy="352.1" r="0.9"/><circle cx="616.3" cy="367.2" r="0.9"/><circle cx="580.3" cy="353.4" r="0.9"/><circle cx="604.7" cy="327.2" r="0.9"/><circle cx="612.9" cy="345.5" r="0.9"/><circle cx="577.9" cy="354.0" r="0.9"/><circle cx="591.2" cy="351.0" r="0.9"/><circle cx="615.1" cy="345.9" r="0.9"/><circle cx="600.9" cy="345.9" r="0.9"/><circle cx="591.9" cy="348.6" r="0.9"/><circle cx="599.7" cy="353.1" r="0.9"/><circle cx="597.9" cy="337.8" r="0.9"/><circle cx="611.5" cy="328.0" r="0.9"/><circle cx="608.6" cy="350.9" r="0.9"/><circle cx="600.7" cy="350.6" r="0.9"/><circle cx="596.5" cy="331.8" r="0.9"/><circle cx="603.1" cy="360.6" r="0.9"/><circle cx="618.0" cy="351.2" r="0.9"/><circle cx="607.5" cy="348.8" r="0.9"/><circle cx="610.6" cy="342.9" r="0.9"/><circle cx="602.1" cy="347.7" r="0.9"/><circle cx="589.8" cy="354.4" r="0.9"/><circle cx="596.1" cy="341.3" r="0.9"/><circle cx="610.7" cy="357.6" r="0.9"/><circle cx="604.8" cy="363.7" r="0.9"/><circle cx="594.0" cy="366.8" r="0.9"/><circle cx="586.3" cy="336.6" r="0.9"/><circle cx="604.9" cy="363.6" r="0.9"/><circle cx="600.1" cy="339.9" r="0.9"/><circle cx="599.9" cy="337.4" r="0.9"/><circle cx="600.2" cy="335.9" r="0.9"/><circle cx="606.8" cy="346.6" r="0.9"/><circle cx="606.9" cy="350.7" r="0.9"/><circle cx="614.0" cy="343.8" r="0.9"/><circle cx="613.7" cy="351.2" r="0.9"/><circle cx="618.0" cy="358.7" r="0.9"/><circle cx="612.4" cy="331.1" r="0.9"/><circle cx="600.1" cy="354.5" r="0.9"/><circle cx="603.1" cy="325.2" r="0.9"/><circle cx="609.0" cy="339.1" r="0.9"/><circle cx="600.4" cy="349.7" r="0.9"/><circle cx="609.6" cy="340.0" r="0.9"/><circle cx="616.1" cy="331.3" r="0.9"/><circle cx="595.1" cy="359.7" r="0.9"/><circle cx="584.7" cy="354.8" r="0.9"/><circle cx="616.5" cy="356.1" r="0.9"/><circle cx="603.9" cy="342.9" r="0.9"/><circle cx="611.3" cy="340.3" r="0.9"/><circle cx="589.4" cy="344.4" r="0.9"/><circle cx="622.3" cy="352.6" r="0.9"/><circle cx="611.6" cy="350.5" r="0.9"/><circle cx="602.3" cy="331.8" r="0.9"/><circle cx="599.9" cy="332.6" r="0.9"/><circle cx="604.9" cy="343.3" r="0.9"/><circle cx="601.9" cy="359.0" r="0.9"/><circle cx="600.7" cy="337.9" r="0.9"/><circle cx="591.7" cy="341.6" r="0.9"/><circle cx="617.3" cy="342.0" r="0.9"/><circle cx="603.3" cy="325.9" r="0.9"/><circle cx="604.5" cy="335.8" r="0.9"/><circle cx="604.7" cy="355.3" r="0.9"/><circle cx="578.3" cy="355.2" r="0.9"/><circle cx="609.4" cy="329.7" r="0.9"/><circle cx="600.2" cy="342.5" r="0.9"/><circle cx="600.6" cy="335.1" r="0.9"/><circle cx="604.5" cy="345.9" r="0.9"/><circle cx="593.2" cy="355.0" r="0.9"/><circle cx="612.8" cy="341.2" r="0.9"/><circle cx="596.2" cy="327.1" r="0.9"/><circle cx="594.0" cy="340.4" r="0.9"/><circle cx="594.4" cy="356.3" r="0.9"/><circle cx="605.4" cy="347.4" r="0.9"/><circle cx="611.7" cy="349.4" r="0.9"/><circle cx="597.3" cy="342.0" r="0.9"/><circle cx="587.5" cy="332.8" r="0.9"/><circle cx="615.1" cy="322.4" r="0.9"/><circle cx="592.2" cy="341.3" r="0.9"/><circle cx="616.6" cy="348.4" r="0.9"/><circle cx="603.1" cy="342.9" r="0.9"/><circle cx="596.2" cy="343.5" r="0.9"/><circle cx="596.8" cy="348.3" r="0.9"/><circle cx="608.7" cy="343.4" r="0.9"/><circle cx="613.3" cy="343.7" r="0.9"/><circle cx="601.6" cy="356.5" r="0.9"/><circle cx="613.9" cy="337.7" r="0.9"/><circle cx="626.1" cy="347.6" r="0.9"/><circle cx="601.5" cy="354.4" r="0.9"/><circle cx="591.3" cy="338.3" r="0.9"/><circle cx="592.4" cy="349.0" r="0.9"/><circle cx="588.7" cy="324.7" r="0.9"/><circle cx="596.8" cy="338.5" r="0.9"/><circle cx="595.9" cy="342.9" r="0.9"/><circle cx="589.5" cy="352.0" r="0.9"/><circle cx="609.4" cy="348.2" r="0.9"/><circle cx="575.6" cy="334.5" r="0.9"/><circle cx="589.5" cy="351.3" r="0.9"/><circle cx="625.4" cy="335.5" r="0.9"/><circle cx="614.9" cy="366.7" r="0.9"/><circle cx="609.3" cy="341.7" r="0.9"/><circle cx="608.6" cy="335.0" r="0.9"/><circle cx="622.7" cy="340.2" r="0.9"/><circle cx="609.5" cy="343.9" r="0.9"/><circle cx="604.5" cy="332.9" r="0.9"/><circle cx="590.5" cy="353.2" r="0.9"/><circle cx="602.9" cy="354.6" r="0.9"/><circle cx="595.8" cy="342.8" r="0.9"/><circle cx="596.1" cy="330.8" r="0.9"/><circle cx="596.0" cy="339.2" r="0.9"/><circle cx="603.2" cy="346.0" r="0.9"/><circle cx="600.2" cy="340.6" r="0.9"/><circle cx="613.1" cy="339.1" r="0.9"/><circle cx="589.4" cy="357.5" r="0.9"/><circle cx="601.9" cy="363.4" r="0.9"/><circle cx="623.7" cy="355.1" r="0.9"/><circle cx="604.1" cy="360.2" r="0.9"/><circle cx="616.6" cy="350.2" r="0.9"/><circle cx="615.9" cy="357.0" r="0.9"/><circle cx="617.9" cy="353.3" r="0.9"/><circle cx="611.6" cy="339.2" r="0.9"/><circle cx="588.9" cy="342.8" r="0.9"/><circle cx="600.8" cy="344.1" r="0.9"/><circle cx="599.6" cy="325.8" r="0.9"/><circle cx="587.0" cy="348.8" r="0.9"/><circle cx="598.7" cy="347.9" r="0.9"/><circle cx="590.3" cy="330.0" r="0.9"/><circle cx="585.8" cy="355.9" r="0.9"/><circle cx="606.0" cy="361.5" r="0.9"/><circle cx="603.2" cy="329.5" r="0.9"/><circle cx="596.3" cy="340.1" r="0.9"/><circle cx="593.5" cy="337.2" r="0.9"/><circle cx="597.9" cy="336.8" r="0.9"/><circle cx="599.5" cy="333.8" r="0.9"/><circle cx="599.3" cy="348.8" r="0.9"/><circle cx="603.1" cy="344.5" r="0.9"/><circle cx="599.0" cy="355.7" r="0.9"/><circle cx="607.9" cy="342.1" r="0.9"/><circle cx="609.3" cy="341.0" r="0.9"/><circle cx="607.6" cy="348.5" r="0.9"/><circle cx="596.6" cy="336.3" r="0.9"/><circle cx="597.1" cy="311.4" r="0.9"/><circle cx="608.4" cy="356.0" r="0.9"/><circle cx="601.6" cy="334.4" r="0.9"/><circle cx="603.2" cy="333.2" r="0.9"/><circle cx="576.9" cy="331.8" r="0.9"/><circle cx="574.7" cy="352.1" r="0.9"/><circle cx="607.3" cy="330.3" r="0.9"/><circle cx="607.2" cy="336.2" r="0.9"/><circle cx="618.7" cy="344.7" r="0.9"/><circle cx="611.5" cy="347.0" r="0.9"/><circle cx="606.1" cy="340.6" r="0.9"/><circle cx="603.9" cy="333.1" r="0.9"/><circle cx="588.4" cy="333.6" r="0.9"/><circle cx="613.2" cy="318.3" r="0.9"/><circle cx="597.2" cy="347.0" r="0.9"/><circle cx="609.1" cy="336.3" r="0.9"/><circle cx="605.9" cy="347.7" r="0.9"/><circle cx="606.6" cy="334.5" r="0.9"/><circle cx="613.3" cy="341.6" r="0.9"/><circle cx="598.4" cy="349.5" r="0.9"/><circle cx="599.5" cy="357.5" r="0.9"/><circle cx="594.5" cy="351.4" r="0.9"/><circle cx="599.6" cy="340.4" r="0.9"/><circle cx="621.6" cy="327.0" r="0.9"/><circle cx="599.8" cy="334.6" r="0.9"/><circle cx="616.5" cy="356.0" r="0.9"/><circle cx="612.6" cy="348.3" r="0.9"/><circle cx="611.5" cy="342.7" r="0.9"/><circle cx="612.3" cy="344.6" r="0.9"/><circle cx="592.8" cy="342.7" r="0.9"/><circle cx="607.7" cy="335.0" r="0.9"/><circle cx="620.8" cy="341.3" r="0.9"/><circle cx="596.2" cy="351.3" r="0.9"/><circle cx="603.2" cy="364.8" r="0.9"/><circle cx="596.3" cy="347.6" r="0.9"/><circle cx="607.1" cy="362.3" r="0.9"/><circle cx="592.1" cy="345.9" r="0.9"/><circle cx="621.0" cy="340.8" r="0.9"/><circle cx="599.6" cy="358.9" r="0.9"/><circle cx="587.1" cy="346.0" r="0.9"/><circle cx="623.0" cy="348.3" r="0.9"/><circle cx="614.1" cy="324.0" r="0.9"/><circle cx="609.3" cy="339.8" r="0.9"/><circle cx="609.4" cy="365.4" r="0.9"/><circle cx="599.9" cy="340.1" r="0.9"/><circle cx="601.3" cy="340.5" r="0.9"/><circle cx="611.5" cy="347.3" r="0.9"/><circle cx="613.6" cy="349.2" r="0.9"/><circle cx="613.7" cy="338.7" r="0.9"/><circle cx="606.0" cy="338.0" r="0.9"/><circle cx="598.7" cy="340.6" r="0.9"/><circle cx="601.6" cy="356.2" r="0.9"/><circle cx="615.6" cy="348.1" r="0.9"/><circle cx="619.2" cy="362.4" r="0.9"/><circle cx="600.0" cy="361.8" r="0.9"/><circle cx="598.6" cy="351.6" r="0.9"/><circle cx="617.1" cy="357.0" r="0.9"/><circle cx="611.5" cy="350.1" r="0.9"/><circle cx="611.2" cy="318.7" r="0.9"/><circle cx="589.6" cy="340.3" r="0.9"/><circle cx="599.7" cy="355.4" r="0.9"/><circle cx="598.2" cy="363.0" r="0.9"/><circle cx="605.9" cy="355.0" r="0.9"/><circle cx="585.6" cy="361.5" r="0.9"/><circle cx="617.4" cy="362.7" r="0.9"/><circle cx="606.9" cy="338.1" r="0.9"/><circle cx="608.4" cy="351.3" r="0.9"/><circle cx="591.0" cy="341.3" r="0.9"/><circle cx="603.4" cy="312.5" r="0.9"/><circle cx="618.1" cy="343.1" r="0.9"/><circle cx="586.8" cy="344.8" r="0.9"/><circle cx="607.0" cy="342.3" r="0.9"/><circle cx="611.2" cy="349.0" r="0.9"/><circle cx="596.3" cy="355.1" r="0.9"/><circle cx="612.5" cy="348.4" r="0.9"/><circle cx="600.2" cy="333.6" r="0.9"/><circle cx="616.9" cy="349.0" r="0.9"/><circle cx="599.0" cy="303.2" r="0.9"/><circle cx="616.6" cy="316.6" r="0.9"/><circle cx="608.1" cy="335.9" r="0.9"/><circle cx="614.6" cy="327.6" r="0.9"/><circle cx="572.1" cy="320.4" r="0.9"/><circle cx="623.9" cy="364.5" r="0.9"/><circle cx="577.3" cy="307.9" r="0.9"/><circle cx="584.4" cy="339.3" r="0.9"/><circle cx="616.4" cy="327.6" r="0.9"/><circle cx="597.0" cy="330.1" r="0.9"/><circle cx="633.1" cy="314.6" r="0.9"/><circle cx="606.3" cy="311.4" r="0.9"/><circle cx="586.5" cy="288.4" r="0.9"/><circle cx="606.3" cy="339.9" r="0.9"/><circle cx="597.1" cy="350.9" r="0.9"/><circle cx="629.8" cy="330.0" r="0.9"/><circle cx="631.1" cy="345.8" r="0.9"/><circle cx="616.2" cy="315.3" r="0.9"/><circle cx="597.1" cy="348.8" r="0.9"/><circle cx="605.3" cy="329.9" r="0.9"/><circle cx="621.5" cy="313.6" r="0.9"/><circle cx="590.6" cy="312.1" r="0.9"/><circle cx="590.7" cy="328.3" r="0.9"/><circle cx="618.2" cy="304.1" r="0.9"/><circle cx="616.3" cy="306.5" r="0.9"/><circle cx="600.1" cy="366.6" r="0.9"/><circle cx="599.5" cy="325.1" r="0.9"/><circle cx="571.4" cy="328.7" r="0.9"/><circle cx="623.8" cy="338.3" r="0.9"/><circle cx="602.1" cy="345.1" r="0.9"/><circle cx="580.2" cy="331.4" r="0.9"/><circle cx="585.2" cy="324.5" r="0.9"/><circle cx="589.1" cy="326.7" r="0.9"/><circle cx="632.6" cy="304.8" r="0.9"/><circle cx="615.6" cy="312.2" r="0.9"/><circle cx="581.7" cy="344.0" r="0.9"/><circle cx="635.2" cy="347.4" r="0.9"/><circle cx="626.5" cy="315.1" r="0.9"/><circle cx="586.4" cy="346.2" r="0.9"/><circle cx="559.7" cy="328.8" r="0.9"/><circle cx="620.3" cy="322.6" r="0.9"/><circle cx="594.1" cy="311.4" r="0.9"/><circle cx="601.9" cy="321.7" r="0.9"/><circle cx="595.4" cy="303.1" r="0.9"/><circle cx="625.2" cy="341.3" r="0.9"/><circle cx="596.8" cy="450.0" r="0.9"/><circle cx="577.1" cy="472.4" r="0.9"/><circle cx="589.6" cy="436.3" r="0.9"/><circle cx="588.7" cy="448.1" r="0.9"/><circle cx="573.1" cy="467.1" r="0.9"/><circle cx="601.0" cy="456.0" r="0.9"/><circle cx="592.2" cy="451.4" r="0.9"/><circle cx="589.0" cy="468.6" r="0.9"/><circle cx="576.5" cy="437.9" r="0.9"/><circle cx="581.9" cy="454.0" r="0.9"/><circle cx="593.6" cy="462.5" r="0.9"/><circle cx="587.2" cy="473.1" r="0.9"/><circle cx="604.0" cy="458.5" r="0.9"/><circle cx="588.6" cy="459.4" r="0.9"/><circle cx="574.7" cy="449.6" r="0.9"/><circle cx="595.9" cy="445.0" r="0.9"/><circle cx="577.5" cy="456.7" r="0.9"/><circle cx="590.0" cy="451.7" r="0.9"/><circle cx="560.0" cy="440.7" r="0.9"/><circle cx="581.6" cy="449.9" r="0.9"/><circle cx="595.0" cy="460.0" r="0.9"/><circle cx="577.1" cy="449.9" r="0.9"/><circle cx="586.3" cy="463.0" r="0.9"/><circle cx="595.5" cy="451.8" r="0.9"/><circle cx="587.7" cy="456.4" r="0.9"/><circle cx="613.2" cy="469.6" r="0.9"/><circle cx="582.9" cy="450.1" r="0.9"/><circle cx="584.0" cy="456.0" r="0.9"/><circle cx="584.3" cy="448.6" r="0.9"/><circle cx="557.4" cy="472.3" r="0.9"/><circle cx="563.9" cy="444.3" r="0.9"/><circle cx="594.6" cy="443.8" r="0.9"/><circle cx="581.8" cy="461.1" r="0.9"/><circle cx="607.2" cy="458.2" r="0.9"/><circle cx="585.5" cy="456.5" r="0.9"/><circle cx="584.1" cy="457.3" r="0.9"/><circle cx="601.9" cy="447.5" r="0.9"/><circle cx="590.8" cy="465.3" r="0.9"/><circle cx="610.4" cy="470.3" r="0.9"/><circle cx="571.0" cy="459.9" r="0.9"/><circle cx="593.2" cy="435.4" r="0.9"/><circle cx="596.7" cy="461.7" r="0.9"/><circle cx="594.9" cy="468.7" r="0.9"/><circle cx="603.8" cy="467.8" r="0.9"/><circle cx="602.0" cy="455.4" r="0.9"/><circle cx="587.3" cy="443.8" r="0.9"/><circle cx="578.5" cy="465.8" r="0.9"/><circle cx="601.4" cy="455.4" r="0.9"/><circle cx="587.6" cy="454.9" r="0.9"/><circle cx="601.2" cy="452.1" r="0.9"/><circle cx="607.1" cy="455.8" r="0.9"/><circle cx="590.1" cy="445.3" r="0.9"/><circle cx="573.8" cy="449.5" r="0.9"/><circle cx="583.5" cy="464.5" r="0.9"/><circle cx="599.0" cy="429.6" r="0.9"/><circle cx="583.8" cy="473.1" r="0.9"/><circle cx="604.9" cy="472.6" r="0.9"/><circle cx="588.1" cy="445.6" r="0.9"/><circle cx="589.5" cy="455.3" r="0.9"/><circle cx="578.3" cy="460.3" r="0.9"/><circle cx="586.1" cy="455.2" r="0.9"/><circle cx="603.8" cy="449.6" r="0.9"/><circle cx="582.5" cy="462.4" r="0.9"/><circle cx="582.7" cy="464.8" r="0.9"/><circle cx="576.0" cy="469.6" r="0.9"/><circle cx="599.1" cy="467.4" r="0.9"/><circle cx="564.9" cy="466.7" r="0.9"/><circle cx="577.8" cy="444.4" r="0.9"/><circle cx="600.9" cy="454.3" r="0.9"/><circle cx="608.4" cy="451.3" r="0.9"/><circle cx="584.0" cy="464.0" r="0.9"/><circle cx="601.6" cy="445.5" r="0.9"/><circle cx="557.9" cy="475.5" r="0.9"/><circle cx="598.5" cy="452.1" r="0.9"/><circle cx="591.5" cy="449.6" r="0.9"/><circle cx="569.1" cy="464.3" r="0.9"/><circle cx="560.8" cy="469.4" r="0.9"/><circle cx="579.7" cy="451.6" r="0.9"/><circle cx="591.0" cy="465.8" r="0.9"/><circle cx="592.6" cy="467.9" r="0.9"/><circle cx="588.8" cy="457.9" r="0.9"/><circle cx="598.6" cy="470.5" r="0.9"/><circle cx="597.5" cy="459.2" r="0.9"/><circle cx="566.6" cy="434.4" r="0.9"/><circle cx="581.4" cy="462.7" r="0.9"/><circle cx="579.5" cy="447.2" r="0.9"/><circle cx="602.3" cy="469.8" r="0.9"/><circle cx="579.8" cy="456.7" r="0.9"/><circle cx="602.0" cy="460.8" r="0.9"/><circle cx="588.4" cy="459.6" r="0.9"/><circle cx="621.8" cy="449.0" r="0.9"/><circle cx="586.3" cy="433.0" r="0.9"/><circle cx="587.1" cy="459.1" r="0.9"/><circle cx="585.4" cy="442.7" r="0.9"/><circle cx="589.2" cy="453.7" r="0.9"/><circle cx="623.0" cy="449.2" r="0.9"/><circle cx="579.6" cy="463.1" r="0.9"/><circle cx="574.1" cy="465.8" r="0.9"/><circle cx="584.1" cy="460.0" r="0.9"/><circle cx="597.0" cy="466.6" r="0.9"/><circle cx="572.4" cy="457.8" r="0.9"/><circle cx="598.8" cy="469.8" r="0.9"/><circle cx="598.3" cy="457.7" r="0.9"/><circle cx="584.5" cy="455.7" r="0.9"/><circle cx="583.2" cy="436.8" r="0.9"/><circle cx="575.3" cy="437.9" r="0.9"/><circle cx="582.9" cy="451.9" r="0.9"/><circle cx="575.1" cy="463.5" r="0.9"/><circle cx="605.3" cy="450.7" r="0.9"/><circle cx="611.0" cy="448.3" r="0.9"/><circle cx="582.7" cy="460.0" r="0.9"/><circle cx="586.3" cy="467.5" r="0.9"/><circle cx="558.7" cy="478.3" r="0.9"/><circle cx="579.0" cy="458.1" r="0.9"/><circle cx="591.8" cy="435.6" r="0.9"/><circle cx="590.9" cy="460.1" r="0.9"/><circle cx="588.6" cy="453.3" r="0.9"/><circle cx="599.3" cy="453.5" r="0.9"/><circle cx="588.1" cy="452.1" r="0.9"/><circle cx="581.0" cy="448.8" r="0.9"/><circle cx="610.5" cy="480.7" r="0.9"/><circle cx="558.4" cy="459.4" r="0.9"/><circle cx="569.6" cy="453.3" r="0.9"/><circle cx="575.8" cy="458.7" r="0.9"/><circle cx="575.9" cy="443.7" r="0.9"/><circle cx="575.2" cy="461.9" r="0.9"/><circle cx="583.3" cy="447.0" r="0.9"/><circle cx="576.1" cy="437.3" r="0.9"/><circle cx="585.7" cy="460.5" r="0.9"/><circle cx="595.3" cy="457.3" r="0.9"/><circle cx="586.9" cy="460.9" r="0.9"/><circle cx="588.5" cy="448.8" r="0.9"/><circle cx="572.7" cy="482.1" r="0.9"/><circle cx="569.7" cy="474.4" r="0.9"/><circle cx="582.1" cy="460.9" r="0.9"/><circle cx="600.1" cy="447.5" r="0.9"/><circle cx="592.0" cy="450.7" r="0.9"/><circle cx="602.5" cy="466.9" r="0.9"/><circle cx="601.1" cy="439.0" r="0.9"/><circle cx="603.0" cy="456.2" r="0.9"/><circle cx="574.5" cy="464.6" r="0.9"/><circle cx="604.7" cy="451.3" r="0.9"/><circle cx="597.6" cy="442.4" r="0.9"/><circle cx="617.0" cy="458.2" r="0.9"/><circle cx="595.1" cy="474.9" r="0.9"/><circle cx="591.2" cy="463.8" r="0.9"/><circle cx="584.5" cy="456.3" r="0.9"/><circle cx="588.9" cy="446.6" r="0.9"/><circle cx="562.1" cy="468.9" r="0.9"/><circle cx="582.7" cy="454.4" r="0.9"/><circle cx="585.9" cy="471.0" r="0.9"/><circle cx="601.0" cy="456.5" r="0.9"/><circle cx="576.8" cy="472.7" r="0.9"/><circle cx="588.4" cy="462.7" r="0.9"/><circle cx="613.3" cy="474.9" r="0.9"/><circle cx="578.6" cy="468.6" r="0.9"/><circle cx="598.8" cy="475.7" r="0.9"/><circle cx="578.6" cy="480.0" r="0.9"/><circle cx="585.0" cy="443.3" r="0.9"/><circle cx="593.2" cy="443.8" r="0.9"/><circle cx="599.4" cy="451.8" r="0.9"/><circle cx="579.2" cy="461.4" r="0.9"/><circle cx="571.4" cy="440.4" r="0.9"/><circle cx="608.8" cy="460.6" r="0.9"/><circle cx="589.2" cy="452.4" r="0.9"/><circle cx="598.1" cy="444.2" r="0.9"/><circle cx="599.9" cy="454.7" r="0.9"/><circle cx="597.6" cy="440.3" r="0.9"/><circle cx="582.6" cy="458.9" r="0.9"/><circle cx="584.4" cy="459.0" r="0.9"/><circle cx="563.6" cy="455.7" r="0.9"/><circle cx="589.1" cy="470.5" r="0.9"/><circle cx="579.6" cy="469.6" r="0.9"/><circle cx="586.1" cy="448.3" r="0.9"/><circle cx="613.9" cy="477.1" r="0.9"/><circle cx="596.5" cy="444.2" r="0.9"/><circle cx="587.2" cy="454.0" r="0.9"/><circle cx="566.5" cy="443.5" r="0.9"/><circle cx="597.1" cy="448.4" r="0.9"/><circle cx="608.8" cy="450.2" r="0.9"/><circle cx="574.4" cy="437.1" r="0.9"/><circle cx="592.7" cy="458.0" r="0.9"/><circle cx="578.9" cy="458.3" r="0.9"/><circle cx="584.2" cy="444.1" r="0.9"/><circle cx="581.1" cy="464.7" r="0.9"/><circle cx="562.9" cy="444.1" r="0.9"/><circle cx="578.9" cy="449.2" r="0.9"/><circle cx="562.8" cy="462.9" r="0.9"/><circle cx="606.7" cy="471.8" r="0.9"/><circle cx="601.6" cy="480.4" r="0.9"/><circle cx="587.1" cy="435.6" r="0.9"/><circle cx="590.5" cy="474.3" r="0.9"/><circle cx="587.3" cy="471.0" r="0.9"/><circle cx="589.3" cy="447.2" r="0.9"/><circle cx="589.3" cy="451.7" r="0.9"/><circle cx="582.9" cy="454.8" r="0.9"/><circle cx="584.0" cy="456.2" r="0.9"/><circle cx="566.8" cy="462.1" r="0.9"/><circle cx="571.8" cy="467.9" r="0.9"/><circle cx="577.6" cy="465.8" r="0.9"/><circle cx="589.5" cy="450.4" r="0.9"/><circle cx="581.0" cy="444.9" r="0.9"/><circle cx="614.2" cy="443.7" r="0.9"/><circle cx="583.7" cy="457.8" r="0.9"/><circle cx="581.2" cy="483.2" r="0.9"/><circle cx="592.7" cy="451.5" r="0.9"/><circle cx="601.4" cy="459.1" r="0.9"/><circle cx="613.4" cy="479.2" r="0.9"/><circle cx="600.6" cy="441.4" r="0.9"/><circle cx="577.9" cy="454.8" r="0.9"/><circle cx="584.0" cy="458.0" r="0.9"/><circle cx="601.8" cy="455.1" r="0.9"/><circle cx="590.2" cy="455.9" r="0.9"/><circle cx="598.1" cy="454.6" r="0.9"/><circle cx="585.4" cy="456.0" r="0.9"/><circle cx="609.8" cy="457.0" r="0.9"/><circle cx="607.6" cy="450.7" r="0.9"/><circle cx="602.9" cy="453.2" r="0.9"/><circle cx="588.8" cy="429.4" r="0.9"/><circle cx="563.2" cy="455.6" r="0.9"/><circle cx="567.0" cy="463.1" r="0.9"/><circle cx="591.3" cy="464.0" r="0.9"/><circle cx="596.1" cy="452.7" r="0.9"/><circle cx="579.7" cy="454.2" r="0.9"/><circle cx="603.3" cy="459.4" r="0.9"/><circle cx="600.5" cy="459.1" r="0.9"/><circle cx="579.4" cy="448.3" r="0.9"/><circle cx="595.9" cy="441.3" r="0.9"/><circle cx="587.1" cy="453.0" r="0.9"/><circle cx="583.5" cy="458.2" r="0.9"/><circle cx="602.9" cy="470.4" r="0.9"/><circle cx="603.2" cy="470.4" r="0.9"/><circle cx="579.1" cy="456.5" r="0.9"/><circle cx="573.0" cy="459.9" r="0.9"/><circle cx="567.8" cy="458.3" r="0.9"/><circle cx="566.1" cy="470.0" r="0.9"/><circle cx="606.0" cy="458.6" r="0.9"/><circle cx="613.9" cy="479.7" r="0.9"/><circle cx="589.8" cy="471.0" r="0.9"/><circle cx="602.0" cy="466.5" r="0.9"/><circle cx="576.9" cy="450.6" r="0.9"/><circle cx="585.8" cy="464.4" r="0.9"/><circle cx="600.1" cy="468.3" r="0.9"/><circle cx="591.4" cy="454.4" r="0.9"/><circle cx="586.3" cy="458.6" r="0.9"/><circle cx="562.7" cy="446.9" r="0.9"/><circle cx="565.8" cy="453.9" r="0.9"/><circle cx="580.8" cy="455.2" r="0.9"/><circle cx="578.8" cy="459.8" r="0.9"/><circle cx="585.8" cy="450.1" r="0.9"/><circle cx="577.6" cy="466.1" r="0.9"/><circle cx="583.7" cy="475.3" r="0.9"/><circle cx="587.7" cy="447.4" r="0.9"/><circle cx="594.3" cy="463.3" r="0.9"/><circle cx="587.8" cy="457.3" r="0.9"/><circle cx="578.9" cy="450.6" r="0.9"/><circle cx="582.8" cy="446.1" r="0.9"/><circle cx="599.9" cy="479.7" r="0.9"/><circle cx="583.8" cy="470.0" r="0.9"/><circle cx="572.8" cy="443.7" r="0.9"/><circle cx="572.2" cy="477.5" r="0.9"/><circle cx="590.9" cy="452.4" r="0.9"/><circle cx="594.8" cy="462.1" r="0.9"/><circle cx="604.4" cy="468.2" r="0.9"/><circle cx="582.1" cy="459.4" r="0.9"/><circle cx="606.6" cy="477.4" r="0.9"/><circle cx="581.7" cy="453.3" r="0.9"/><circle cx="583.4" cy="444.4" r="0.9"/><circle cx="578.5" cy="474.4" r="0.9"/><circle cx="594.3" cy="465.7" r="0.9"/><circle cx="601.8" cy="444.1" r="0.9"/><circle cx="586.3" cy="453.7" r="0.9"/><circle cx="579.5" cy="461.7" r="0.9"/><circle cx="564.4" cy="441.4" r="0.9"/><circle cx="588.8" cy="477.3" r="0.9"/><circle cx="581.7" cy="461.2" r="0.9"/><circle cx="583.8" cy="456.9" r="0.9"/><circle cx="577.5" cy="461.6" r="0.9"/><circle cx="574.0" cy="448.8" r="0.9"/><circle cx="580.4" cy="477.3" r="0.9"/><circle cx="593.1" cy="457.4" r="0.9"/><circle cx="600.4" cy="467.1" r="0.9"/><circle cx="586.4" cy="444.1" r="0.9"/><circle cx="591.2" cy="445.9" r="0.9"/><circle cx="583.7" cy="466.6" r="0.9"/><circle cx="584.8" cy="470.7" r="0.9"/><circle cx="566.9" cy="458.5" r="0.9"/><circle cx="599.3" cy="467.9" r="0.9"/><circle cx="595.1" cy="464.6" r="0.9"/><circle cx="607.5" cy="453.1" r="0.9"/><circle cx="577.7" cy="463.3" r="0.9"/><circle cx="588.4" cy="437.1" r="0.9"/><circle cx="573.3" cy="457.2" r="0.9"/><circle cx="590.0" cy="464.0" r="0.9"/><circle cx="584.8" cy="470.9" r="0.9"/><circle cx="596.3" cy="464.0" r="0.9"/><circle cx="584.5" cy="445.3" r="0.9"/><circle cx="595.8" cy="451.7" r="0.9"/><circle cx="579.5" cy="441.5" r="0.9"/><circle cx="595.1" cy="442.9" r="0.9"/><circle cx="582.2" cy="451.6" r="0.9"/><circle cx="580.3" cy="466.1" r="0.9"/><circle cx="587.8" cy="459.8" r="0.9"/><circle cx="591.9" cy="457.2" r="0.9"/><circle cx="566.3" cy="477.1" r="0.9"/><circle cx="564.8" cy="454.2" r="0.9"/><circle cx="589.3" cy="470.0" r="0.9"/><circle cx="585.8" cy="459.0" r="0.9"/><circle cx="557.4" cy="464.0" r="0.9"/><circle cx="562.1" cy="451.3" r="0.9"/><circle cx="575.6" cy="427.7" r="0.9"/><circle cx="591.2" cy="471.8" r="0.9"/><circle cx="589.5" cy="458.2" r="0.9"/><circle cx="601.1" cy="434.4" r="0.9"/><circle cx="603.4" cy="468.7" r="0.9"/><circle cx="620.6" cy="460.6" r="0.9"/><circle cx="565.9" cy="459.2" r="0.9"/><circle cx="586.1" cy="454.4" r="0.9"/><circle cx="601.9" cy="476.6" r="0.9"/><circle cx="568.6" cy="454.4" r="0.9"/><circle cx="566.4" cy="451.0" r="0.9"/><circle cx="589.5" cy="428.6" r="0.9"/><circle cx="602.4" cy="458.8" r="0.9"/><circle cx="604.6" cy="464.6" r="0.9"/><circle cx="561.1" cy="456.4" r="0.9"/><circle cx="569.2" cy="481.2" r="0.9"/><circle cx="585.3" cy="454.0" r="0.9"/><circle cx="579.0" cy="439.9" r="0.9"/><circle cx="591.3" cy="458.3" r="0.9"/><circle cx="588.6" cy="458.3" r="0.9"/><circle cx="612.0" cy="460.7" r="0.9"/><circle cx="585.8" cy="456.3" r="0.9"/><circle cx="589.3" cy="472.2" r="0.9"/><circle cx="587.8" cy="440.0" r="0.9"/><circle cx="602.6" cy="463.2" r="0.9"/><circle cx="570.7" cy="463.1" r="0.9"/><circle cx="592.2" cy="438.7" r="0.9"/><circle cx="575.6" cy="457.6" r="0.9"/><circle cx="566.3" cy="462.6" r="0.9"/><circle cx="603.7" cy="438.7" r="0.9"/><circle cx="594.3" cy="455.6" r="0.9"/><circle cx="606.9" cy="446.9" r="0.9"/><circle cx="590.4" cy="464.3" r="0.9"/><circle cx="596.1" cy="478.1" r="0.9"/><circle cx="588.8" cy="455.7" r="0.9"/><circle cx="595.0" cy="441.1" r="0.9"/><circle cx="580.9" cy="463.0" r="0.9"/><circle cx="611.5" cy="453.4" r="0.9"/><circle cx="574.1" cy="449.3" r="0.9"/><circle cx="611.5" cy="454.6" r="0.9"/><circle cx="584.1" cy="456.8" r="0.9"/><circle cx="599.5" cy="448.7" r="0.9"/><circle cx="588.9" cy="455.1" r="0.9"/><circle cx="593.4" cy="463.7" r="0.9"/><circle cx="608.5" cy="445.4" r="0.9"/><circle cx="589.1" cy="448.3" r="0.9"/><circle cx="573.4" cy="453.2" r="0.9"/><circle cx="590.5" cy="449.2" r="0.9"/><circle cx="596.4" cy="479.0" r="0.9"/><circle cx="601.2" cy="457.0" r="0.9"/><circle cx="602.8" cy="480.4" r="0.9"/><circle cx="561.4" cy="433.5" r="0.9"/><circle cx="584.8" cy="453.4" r="0.9"/><circle cx="598.9" cy="462.5" r="0.9"/><circle cx="570.3" cy="461.8" r="0.9"/><circle cx="580.9" cy="454.4" r="0.9"/><circle cx="582.1" cy="457.6" r="0.9"/><circle cx="595.2" cy="476.0" r="0.9"/><circle cx="603.2" cy="462.1" r="0.9"/><circle cx="586.6" cy="452.3" r="0.9"/><circle cx="588.0" cy="450.3" r="0.9"/><circle cx="600.5" cy="447.4" r="0.9"/><circle cx="594.9" cy="469.7" r="0.9"/><circle cx="585.5" cy="464.7" r="0.9"/><circle cx="606.4" cy="453.1" r="0.9"/><circle cx="566.5" cy="464.4" r="0.9"/><circle cx="589.2" cy="454.9" r="0.9"/><circle cx="580.9" cy="466.9" r="0.9"/><circle cx="579.7" cy="450.6" r="0.9"/><circle cx="589.9" cy="456.6" r="0.9"/><circle cx="587.6" cy="450.6" r="0.9"/><circle cx="622.8" cy="456.8" r="0.9"/><circle cx="596.4" cy="466.3" r="0.9"/><circle cx="592.1" cy="471.3" r="0.9"/><circle cx="611.1" cy="456.7" r="0.9"/><circle cx="601.8" cy="464.2" r="0.9"/><circle cx="559.9" cy="474.3" r="0.9"/><circle cx="588.8" cy="463.5" r="0.9"/><circle cx="597.8" cy="448.0" r="0.9"/><circle cx="578.2" cy="442.8" r="0.9"/><circle cx="591.3" cy="448.3" r="0.9"/><circle cx="580.3" cy="441.4" r="0.9"/><circle cx="592.4" cy="461.3" r="0.9"/><circle cx="563.2" cy="458.8" r="0.9"/><circle cx="558.5" cy="468.0" r="0.9"/><circle cx="578.9" cy="465.9" r="0.9"/><circle cx="590.2" cy="438.4" r="0.9"/><circle cx="606.3" cy="452.0" r="0.9"/><circle cx="582.8" cy="449.5" r="0.9"/><circle cx="575.9" cy="426.8" r="0.9"/><circle cx="600.2" cy="434.7" r="0.9"/><circle cx="587.3" cy="466.9" r="0.9"/><circle cx="613.2" cy="445.6" r="0.9"/><circle cx="585.5" cy="465.6" r="0.9"/><circle cx="558.3" cy="445.5" r="0.9"/><circle cx="575.1" cy="478.6" r="0.9"/><circle cx="572.8" cy="467.7" r="0.9"/><circle cx="566.4" cy="467.5" r="0.9"/><circle cx="575.4" cy="433.7" r="0.9"/><circle cx="576.6" cy="477.4" r="0.9"/><circle cx="582.5" cy="444.0" r="0.9"/><circle cx="578.7" cy="444.4" r="0.9"/><circle cx="592.6" cy="455.5" r="0.9"/><circle cx="592.7" cy="447.2" r="0.9"/><circle cx="589.3" cy="427.0" r="0.9"/><circle cx="589.5" cy="453.9" r="0.9"/><circle cx="559.1" cy="460.1" r="0.9"/><circle cx="562.2" cy="441.2" r="0.9"/><circle cx="573.8" cy="447.8" r="0.9"/><circle cx="590.4" cy="470.2" r="0.9"/><circle cx="565.2" cy="454.7" r="0.9"/><circle cx="580.5" cy="453.6" r="0.9"/><circle cx="590.3" cy="470.1" r="0.9"/><circle cx="615.7" cy="467.9" r="0.9"/><circle cx="590.4" cy="464.6" r="0.9"/><circle cx="578.8" cy="470.9" r="0.9"/><circle cx="602.6" cy="450.9" r="0.9"/><circle cx="589.6" cy="453.4" r="0.9"/><circle cx="582.2" cy="482.7" r="0.9"/><circle cx="602.8" cy="461.9" r="0.9"/><circle cx="573.1" cy="455.2" r="0.9"/><circle cx="589.3" cy="472.7" r="0.9"/><circle cx="587.6" cy="460.2" r="0.9"/><circle cx="599.7" cy="453.6" r="0.9"/><circle cx="569.6" cy="476.8" r="0.9"/><circle cx="567.4" cy="460.6" r="0.9"/><circle cx="580.6" cy="484.6" r="0.9"/><circle cx="582.3" cy="448.4" r="0.9"/><circle cx="586.9" cy="465.7" r="0.9"/><circle cx="580.8" cy="474.1" r="0.9"/><circle cx="592.6" cy="478.8" r="0.9"/><circle cx="596.4" cy="476.5" r="0.9"/><circle cx="589.5" cy="442.5" r="0.9"/><circle cx="570.7" cy="467.2" r="0.9"/><circle cx="603.2" cy="464.1" r="0.9"/><circle cx="563.7" cy="462.1" r="0.9"/><circle cx="583.2" cy="475.1" r="0.9"/><circle cx="599.3" cy="448.7" r="0.9"/><circle cx="577.1" cy="479.6" r="0.9"/><circle cx="605.1" cy="447.2" r="0.9"/><circle cx="614.3" cy="466.5" r="0.9"/><circle cx="609.3" cy="457.2" r="0.9"/><circle cx="592.5" cy="454.3" r="0.9"/><circle cx="600.6" cy="448.0" r="0.9"/><circle cx="578.6" cy="472.2" r="0.9"/><circle cx="592.0" cy="450.7" r="0.9"/><circle cx="592.8" cy="458.4" r="0.9"/><circle cx="587.5" cy="459.6" r="0.9"/><circle cx="588.4" cy="461.1" r="0.9"/><circle cx="583.1" cy="444.8" r="0.9"/><circle cx="557.2" cy="452.4" r="0.9"/><circle cx="592.0" cy="443.0" r="0.9"/><circle cx="590.7" cy="447.2" r="0.9"/><circle cx="616.3" cy="481.0" r="0.9"/><circle cx="596.6" cy="459.1" r="0.9"/><circle cx="587.1" cy="446.1" r="0.9"/><circle cx="599.0" cy="468.4" r="0.9"/><circle cx="595.3" cy="477.6" r="0.9"/><circle cx="585.9" cy="481.9" r="0.9"/><circle cx="580.5" cy="434.7" r="0.9"/><circle cx="564.5" cy="468.8" r="0.9"/><circle cx="587.9" cy="456.0" r="0.9"/><circle cx="610.1" cy="470.6" r="0.9"/><circle cx="558.6" cy="453.0" r="0.9"/><circle cx="572.1" cy="438.6" r="0.9"/><circle cx="597.3" cy="475.0" r="0.9"/><circle cx="589.0" cy="458.7" r="0.9"/><circle cx="592.3" cy="467.0" r="0.9"/><circle cx="558.7" cy="480.0" r="0.9"/><circle cx="577.4" cy="468.5" r="0.9"/><circle cx="593.6" cy="457.7" r="0.9"/><circle cx="594.8" cy="443.5" r="0.9"/><circle cx="590.5" cy="443.0" r="0.9"/><circle cx="573.1" cy="458.2" r="0.9"/><circle cx="594.1" cy="477.4" r="0.9"/><circle cx="568.5" cy="450.2" r="0.9"/><circle cx="572.3" cy="458.0" r="0.9"/><circle cx="569.0" cy="458.1" r="0.9"/><circle cx="607.4" cy="471.4" r="0.9"/><circle cx="580.0" cy="459.8" r="0.9"/><circle cx="586.9" cy="434.9" r="0.9"/><circle cx="602.3" cy="443.0" r="0.9"/><circle cx="593.0" cy="450.1" r="0.9"/><circle cx="561.7" cy="462.6" r="0.9"/><circle cx="562.4" cy="457.9" r="0.9"/><circle cx="610.6" cy="456.1" r="0.9"/><circle cx="572.2" cy="453.3" r="0.9"/><circle cx="613.3" cy="462.0" r="0.9"/><circle cx="579.2" cy="468.1" r="0.9"/><circle cx="602.5" cy="462.3" r="0.9"/><circle cx="593.5" cy="448.0" r="0.9"/><circle cx="596.2" cy="460.0" r="0.9"/><circle cx="578.6" cy="449.9" r="0.9"/><circle cx="582.9" cy="451.8" r="0.9"/><circle cx="600.2" cy="449.2" r="0.9"/><circle cx="573.9" cy="449.8" r="0.9"/><circle cx="557.0" cy="469.0" r="0.9"/><circle cx="599.5" cy="473.8" r="0.9"/><circle cx="576.9" cy="458.4" r="0.9"/><circle cx="604.9" cy="438.5" r="0.9"/><circle cx="578.9" cy="467.7" r="0.9"/><circle cx="579.7" cy="468.8" r="0.9"/><circle cx="582.3" cy="431.1" r="0.9"/><circle cx="603.4" cy="464.6" r="0.9"/><circle cx="576.7" cy="462.7" r="0.9"/><circle cx="583.1" cy="465.9" r="0.9"/><circle cx="607.7" cy="465.5" r="0.9"/><circle cx="587.7" cy="445.2" r="0.9"/><circle cx="599.3" cy="455.5" r="0.9"/><circle cx="591.0" cy="455.8" r="0.9"/><circle cx="597.5" cy="477.3" r="0.9"/><circle cx="590.1" cy="448.6" r="0.9"/><circle cx="603.1" cy="456.0" r="0.9"/><circle cx="582.9" cy="456.1" r="0.9"/><circle cx="592.9" cy="448.2" r="0.9"/><circle cx="575.6" cy="454.2" r="0.9"/><circle cx="603.6" cy="458.2" r="0.9"/><circle cx="588.8" cy="466.2" r="0.9"/><circle cx="591.4" cy="468.5" r="0.9"/><circle cx="591.1" cy="473.7" r="0.9"/><circle cx="586.0" cy="446.6" r="0.9"/><circle cx="605.9" cy="465.5" r="0.9"/><circle cx="617.4" cy="455.8" r="0.9"/><circle cx="577.3" cy="444.9" r="0.9"/><circle cx="557.8" cy="436.7" r="0.9"/><circle cx="570.0" cy="462.1" r="0.9"/><circle cx="574.0" cy="455.9" r="0.9"/><circle cx="584.1" cy="456.7" r="0.9"/><circle cx="585.3" cy="473.2" r="0.9"/><circle cx="602.0" cy="463.5" r="0.9"/><circle cx="579.7" cy="425.1" r="0.9"/><circle cx="585.5" cy="458.6" r="0.9"/><circle cx="587.7" cy="437.1" r="0.9"/><circle cx="573.1" cy="448.9" r="0.9"/><circle cx="581.4" cy="437.3" r="0.9"/><circle cx="626.9" cy="442.3" r="0.9"/><circle cx="584.7" cy="455.2" r="0.9"/><circle cx="571.8" cy="472.3" r="0.9"/><circle cx="601.4" cy="449.5" r="0.9"/><circle cx="581.3" cy="452.2" r="0.9"/><circle cx="576.7" cy="447.7" r="0.9"/><circle cx="622.3" cy="467.1" r="0.9"/><circle cx="607.3" cy="456.3" r="0.9"/><circle cx="560.7" cy="457.9" r="0.9"/><circle cx="580.9" cy="475.3" r="0.9"/><circle cx="600.8" cy="471.9" r="0.9"/><circle cx="598.4" cy="459.3" r="0.9"/><circle cx="569.6" cy="483.8" r="0.9"/><circle cx="612.4" cy="449.3" r="0.9"/><circle cx="613.5" cy="448.9" r="0.9"/><circle cx="569.6" cy="458.8" r="0.9"/><circle cx="559.9" cy="454.6" r="0.9"/><circle cx="565.4" cy="479.2" r="0.9"/><circle cx="595.9" cy="455.9" r="0.9"/><circle cx="602.0" cy="449.1" r="0.9"/><circle cx="588.7" cy="452.0" r="0.9"/><circle cx="577.2" cy="447.2" r="0.9"/><circle cx="584.6" cy="458.7" r="0.9"/><circle cx="594.3" cy="434.6" r="0.9"/><circle cx="568.0" cy="452.9" r="0.9"/><circle cx="560.8" cy="448.7" r="0.9"/><circle cx="584.7" cy="445.3" r="0.9"/><circle cx="604.2" cy="466.9" r="0.9"/><circle cx="588.8" cy="471.1" r="0.9"/><circle cx="588.8" cy="448.8" r="0.9"/><circle cx="575.9" cy="472.6" r="0.9"/><circle cx="599.6" cy="465.0" r="0.9"/><circle cx="560.6" cy="446.4" r="0.9"/><circle cx="584.9" cy="470.8" r="0.9"/><circle cx="577.1" cy="469.5" r="0.9"/><circle cx="583.6" cy="472.5" r="0.9"/><circle cx="572.1" cy="470.2" r="0.9"/><circle cx="597.0" cy="436.1" r="0.9"/><circle cx="584.7" cy="451.6" r="0.9"/><circle cx="577.0" cy="446.7" r="0.9"/><circle cx="593.4" cy="480.7" r="0.9"/><circle cx="585.0" cy="481.0" r="0.9"/><circle cx="578.1" cy="471.5" r="0.9"/><circle cx="577.0" cy="445.8" r="0.9"/><circle cx="597.3" cy="444.3" r="0.9"/><circle cx="571.9" cy="481.2" r="0.9"/><circle cx="582.5" cy="478.5" r="0.9"/><circle cx="581.8" cy="450.4" r="0.9"/><circle cx="590.4" cy="455.2" r="0.9"/><circle cx="582.9" cy="453.0" r="0.9"/><circle cx="617.7" cy="450.4" r="0.9"/><circle cx="559.8" cy="469.9" r="0.9"/><circle cx="594.5" cy="456.7" r="0.9"/><circle cx="585.2" cy="461.5" r="0.9"/><circle cx="602.1" cy="443.8" r="0.9"/><circle cx="561.6" cy="461.8" r="0.9"/><circle cx="603.7" cy="480.3" r="0.9"/><circle cx="565.2" cy="443.4" r="0.9"/><circle cx="595.9" cy="437.0" r="0.9"/><circle cx="593.3" cy="446.8" r="0.9"/><circle cx="586.1" cy="462.0" r="0.9"/><circle cx="574.8" cy="469.3" r="0.9"/><circle cx="573.6" cy="446.4" r="0.9"/><circle cx="587.1" cy="464.4" r="0.9"/><circle cx="574.5" cy="452.1" r="0.9"/><circle cx="556.8" cy="449.1" r="0.9"/><circle cx="558.9" cy="459.8" r="0.9"/><circle cx="597.5" cy="481.7" r="0.9"/><circle cx="597.9" cy="452.4" r="0.9"/><circle cx="593.3" cy="470.0" r="0.9"/><circle cx="586.4" cy="476.5" r="0.9"/><circle cx="591.4" cy="458.8" r="0.9"/><circle cx="593.1" cy="456.7" r="0.9"/><circle cx="589.5" cy="459.4" r="0.9"/><circle cx="574.1" cy="450.9" r="0.9"/><circle cx="575.0" cy="480.6" r="0.9"/><circle cx="568.8" cy="451.5" r="0.9"/><circle cx="588.1" cy="439.3" r="0.9"/><circle cx="571.2" cy="459.3" r="0.9"/><circle cx="583.5" cy="464.2" r="0.9"/><circle cx="605.4" cy="460.3" r="0.9"/><circle cx="580.3" cy="444.0" r="0.9"/><circle cx="600.3" cy="460.5" r="0.9"/><circle cx="609.0" cy="467.6" r="0.9"/><circle cx="558.9" cy="478.1" r="0.9"/><circle cx="564.7" cy="441.8" r="0.9"/><circle cx="593.0" cy="441.5" r="0.9"/><circle cx="575.5" cy="458.1" r="0.9"/><circle cx="593.9" cy="434.0" r="0.9"/><circle cx="596.5" cy="462.8" r="0.9"/><circle cx="578.4" cy="449.7" r="0.9"/><circle cx="598.3" cy="473.5" r="0.9"/><circle cx="611.9" cy="470.0" r="0.9"/><circle cx="600.3" cy="458.3" r="0.9"/><circle cx="573.1" cy="452.6" r="0.9"/><circle cx="584.0" cy="451.0" r="0.9"/><circle cx="578.2" cy="468.6" r="0.9"/><circle cx="609.4" cy="464.3" r="0.9"/><circle cx="583.3" cy="459.4" r="0.9"/><circle cx="576.0" cy="461.4" r="0.9"/><circle cx="586.9" cy="461.2" r="0.9"/><circle cx="593.8" cy="448.6" r="0.9"/><circle cx="580.7" cy="444.5" r="0.9"/><circle cx="587.8" cy="479.7" r="0.9"/><circle cx="586.3" cy="442.7" r="0.9"/><circle cx="597.2" cy="456.0" r="0.9"/><circle cx="600.7" cy="454.3" r="0.9"/><circle cx="590.4" cy="454.1" r="0.9"/><circle cx="579.4" cy="447.2" r="0.9"/><circle cx="592.4" cy="449.9" r="0.9"/><circle cx="573.2" cy="475.9" r="0.9"/><circle cx="602.3" cy="447.9" r="0.9"/><circle cx="591.6" cy="471.2" r="0.9"/><circle cx="590.1" cy="453.5" r="0.9"/><circle cx="621.6" cy="476.0" r="0.9"/><circle cx="608.1" cy="457.8" r="0.9"/><circle cx="605.3" cy="461.0" r="0.9"/><circle cx="588.4" cy="465.8" r="0.9"/><circle cx="596.5" cy="434.3" r="0.9"/><circle cx="628.9" cy="456.1" r="0.9"/><circle cx="576.5" cy="462.3" r="0.9"/><circle cx="597.8" cy="437.6" r="0.9"/><circle cx="595.7" cy="458.3" r="0.9"/><circle cx="588.9" cy="459.5" r="0.9"/><circle cx="592.1" cy="481.4" r="0.9"/><circle cx="572.3" cy="451.0" r="0.9"/><circle cx="558.1" cy="459.7" r="0.9"/><circle cx="596.0" cy="444.7" r="0.9"/><circle cx="580.7" cy="441.7" r="0.9"/><circle cx="556.2" cy="422.6" r="0.9"/><circle cx="604.6" cy="484.0" r="0.9"/><circle cx="589.7" cy="446.5" r="0.9"/><circle cx="587.3" cy="444.1" r="0.9"/><circle cx="632.9" cy="463.0" r="0.9"/><circle cx="581.1" cy="452.2" r="0.9"/><circle cx="602.9" cy="451.9" r="0.9"/><circle cx="587.6" cy="445.2" r="0.9"/><circle cx="576.5" cy="451.8" r="0.9"/><circle cx="574.9" cy="451.3" r="0.9"/><circle cx="568.8" cy="429.6" r="0.9"/><circle cx="589.6" cy="460.4" r="0.9"/><circle cx="574.2" cy="449.9" r="0.9"/><circle cx="573.8" cy="471.7" r="0.9"/><circle cx="590.9" cy="453.4" r="0.9"/><circle cx="575.5" cy="432.4" r="0.9"/><circle cx="598.5" cy="469.5" r="0.9"/><circle cx="566.2" cy="447.1" r="0.9"/><circle cx="616.7" cy="456.3" r="0.9"/><circle cx="595.9" cy="432.4" r="0.9"/><circle cx="569.3" cy="474.0" r="0.9"/><circle cx="587.8" cy="432.0" r="0.9"/><circle cx="579.7" cy="422.7" r="0.9"/><circle cx="584.0" cy="415.9" r="0.9"/><circle cx="621.1" cy="450.4" r="0.9"/><circle cx="583.0" cy="465.2" r="0.9"/><circle cx="595.9" cy="480.7" r="0.9"/><circle cx="574.0" cy="435.4" r="0.9"/><circle cx="576.2" cy="432.6" r="0.9"/><circle cx="559.6" cy="443.2" r="0.9"/><circle cx="578.0" cy="442.2" r="0.9"/><circle cx="583.0" cy="435.6" r="0.9"/><circle cx="585.1" cy="456.3" r="0.9"/><circle cx="592.6" cy="478.6" r="0.9"/><circle cx="593.5" cy="477.7" r="0.9"/><circle cx="605.0" cy="464.8" r="0.9"/><circle cx="587.1" cy="467.5" r="0.9"/><circle cx="618.6" cy="480.9" r="0.9"/><circle cx="604.0" cy="457.7" r="0.9"/><circle cx="620.0" cy="469.9" r="0.9"/><circle cx="590.5" cy="435.9" r="0.9"/><circle cx="616.6" cy="450.5" r="0.9"/><circle cx="593.6" cy="433.1" r="0.9"/><circle cx="557.6" cy="475.6" r="0.9"/><circle cx="591.2" cy="471.1" r="0.9"/><circle cx="588.0" cy="481.1" r="0.9"/><circle cx="561.7" cy="443.3" r="0.9"/><circle cx="579.2" cy="444.6" r="0.9"/><circle cx="638.5" cy="457.7" r="0.9"/><circle cx="598.0" cy="444.7" r="0.9"/><circle cx="629.0" cy="449.6" r="0.9"/><circle cx="610.9" cy="429.6" r="0.9"/><circle cx="614.0" cy="449.1" r="0.9"/><circle cx="608.4" cy="466.7" r="0.9"/><circle cx="561.2" cy="482.8" r="0.9"/><circle cx="617.5" cy="441.8" r="0.9"/><circle cx="571.2" cy="428.9" r="0.9"/><circle cx="600.8" cy="446.0" r="0.9"/><circle cx="589.7" cy="466.8" r="0.9"/><circle cx="625.1" cy="457.7" r="0.9"/><circle cx="616.5" cy="455.5" r="0.9"/><circle cx="629.5" cy="437.3" r="0.9"/><circle cx="602.0" cy="450.2" r="0.9"/><circle cx="592.1" cy="425.5" r="0.9"/><circle cx="607.8" cy="453.0" r="0.9"/><circle cx="641.1" cy="462.0" r="0.9"/><circle cx="602.7" cy="411.9" r="0.9"/><circle cx="593.0" cy="469.1" r="0.9"/><circle cx="566.9" cy="464.8" r="0.9"/><circle cx="576.8" cy="407.2" r="0.9"/><circle cx="590.4" cy="443.3" r="0.9"/><circle cx="605.9" cy="413.1" r="0.9"/><circle cx="604.8" cy="482.2" r="0.9"/><circle cx="590.1" cy="423.8" r="0.9"/><circle cx="594.8" cy="449.0" r="0.9"/><circle cx="623.5" cy="446.9" r="0.9"/><circle cx="629.9" cy="439.1" r="0.9"/><circle cx="616.6" cy="481.3" r="0.9"/><circle cx="623.4" cy="467.0" r="0.9"/><circle cx="617.6" cy="440.0" r="0.9"/><circle cx="566.5" cy="464.1" r="0.9"/></g>
<g stroke-dasharray="3,2.2">
<line x1="546.10" y1="336.70" x2="651.00" y2="350.50" stroke="#555" stroke-width="1.1" />
<line x1="546.40" y1="452.00" x2="650.30" y2="466.10" stroke="#555" stroke-width="1.1" />
</g>
</svg></body></html>
